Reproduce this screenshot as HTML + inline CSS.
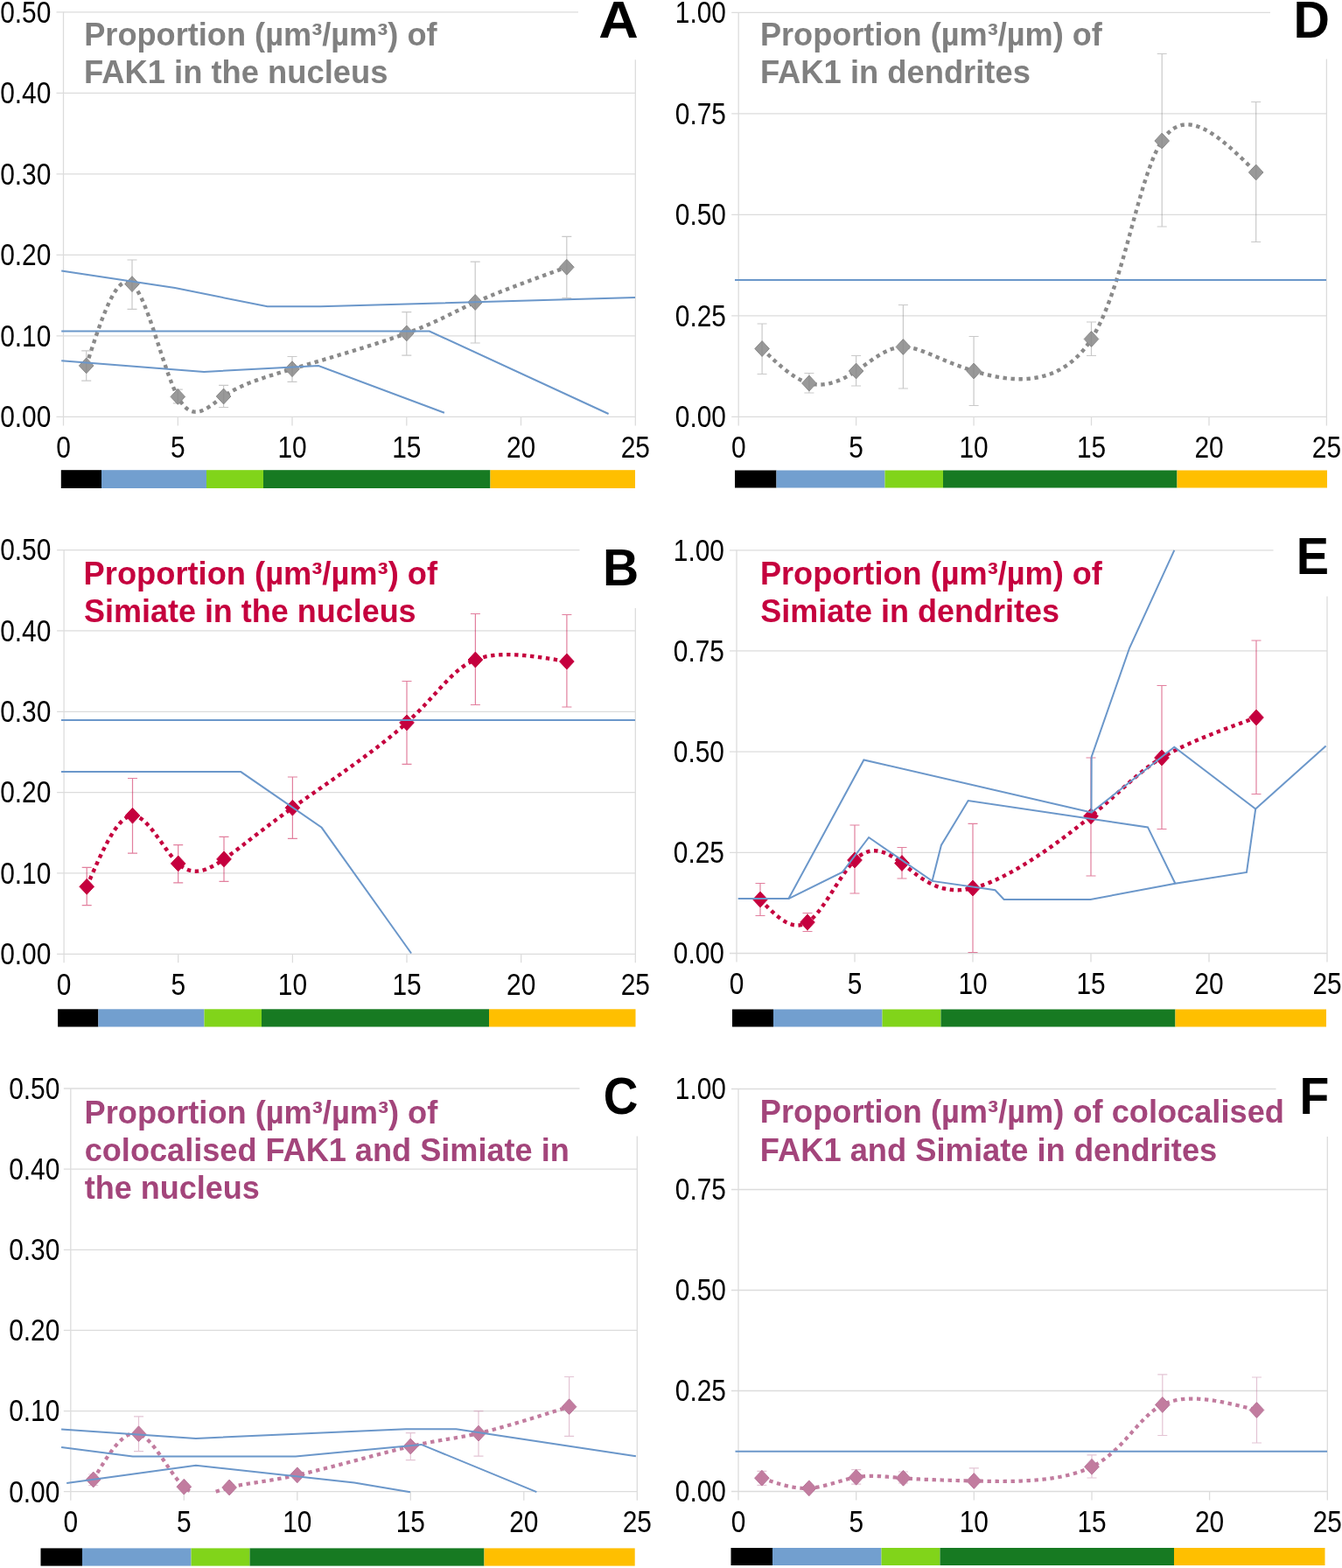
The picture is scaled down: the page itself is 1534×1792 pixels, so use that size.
<!DOCTYPE html>
<html><head><meta charset="utf-8"><title>Figure</title>
<style>
html,body{margin:0;padding:0;background:#fff;overflow:hidden;}
svg{display:block;}
.ax{font-family:"Liberation Sans",Arial,sans-serif;font-size:36px;fill:#000;}
.ti{font-family:"Liberation Sans",Arial,sans-serif;font-size:36px;font-weight:bold;}
.le{font-family:"Liberation Sans",Arial,sans-serif;font-size:59px;font-weight:bold;fill:#000;}
</style></head><body>
<svg width="1534" height="1792" viewBox="0 0 1534 1792">
<rect width="1534" height="1792" fill="#fff"/>
<line x1="64.5" y1="476.40" x2="726.3" y2="476.40" stroke="#dcdcdc" stroke-width="1.3"/>
<text transform="translate(58.3,488.20) scale(0.83,1)" text-anchor="end" class="ax">0.00</text>
<line x1="64.5" y1="383.88" x2="726.3" y2="383.88" stroke="#dcdcdc" stroke-width="1.3"/>
<text transform="translate(58.3,395.68) scale(0.83,1)" text-anchor="end" class="ax">0.10</text>
<line x1="64.5" y1="291.36" x2="726.3" y2="291.36" stroke="#dcdcdc" stroke-width="1.3"/>
<text transform="translate(58.3,303.16) scale(0.83,1)" text-anchor="end" class="ax">0.20</text>
<line x1="64.5" y1="198.84" x2="726.3" y2="198.84" stroke="#dcdcdc" stroke-width="1.3"/>
<text transform="translate(58.3,210.64) scale(0.83,1)" text-anchor="end" class="ax">0.30</text>
<line x1="64.5" y1="106.32" x2="726.3" y2="106.32" stroke="#dcdcdc" stroke-width="1.3"/>
<text transform="translate(58.3,118.12) scale(0.83,1)" text-anchor="end" class="ax">0.40</text>
<line x1="64.5" y1="13.80" x2="661.0" y2="13.80" stroke="#dcdcdc" stroke-width="1.3"/>
<text transform="translate(58.3,25.60) scale(0.83,1)" text-anchor="end" class="ax">0.50</text>
<line x1="72.5" y1="13.80" x2="72.5" y2="486.40" stroke="#dcdcdc" stroke-width="1.3"/>
<line x1="726.3" y1="68.20" x2="726.3" y2="486.40" stroke="#dcdcdc" stroke-width="1.3"/>
<text transform="translate(72.5,523.10) scale(0.83,1)" text-anchor="middle" class="ax">0</text>
<line x1="203.3" y1="476.40" x2="203.3" y2="486.40" stroke="#dcdcdc" stroke-width="1.3"/>
<text transform="translate(203.3,523.10) scale(0.83,1)" text-anchor="middle" class="ax">5</text>
<line x1="334.0" y1="476.40" x2="334.0" y2="486.40" stroke="#dcdcdc" stroke-width="1.3"/>
<text transform="translate(334.0,523.10) scale(0.83,1)" text-anchor="middle" class="ax">10</text>
<line x1="464.8" y1="476.40" x2="464.8" y2="486.40" stroke="#dcdcdc" stroke-width="1.3"/>
<text transform="translate(464.8,523.10) scale(0.83,1)" text-anchor="middle" class="ax">15</text>
<line x1="595.5" y1="476.40" x2="595.5" y2="486.40" stroke="#dcdcdc" stroke-width="1.3"/>
<text transform="translate(595.5,523.10) scale(0.83,1)" text-anchor="middle" class="ax">20</text>
<text transform="translate(726.3,523.10) scale(0.83,1)" text-anchor="middle" class="ax">25</text>
<path d="M98.65,417.90 L99.17,416.28 L99.70,414.66 L100.22,413.05 L100.74,411.43 L101.26,409.82 L101.79,408.21 L102.31,406.60 L102.83,404.99 L103.35,403.39 L103.87,401.79 L104.40,400.20 L104.92,398.60 L105.44,397.02 L105.96,395.44 L106.49,393.86 L107.01,392.30 L107.53,390.73 L108.05,389.18 L108.58,387.63 L109.10,386.09 L109.62,384.56 L110.14,383.04 L110.67,381.52 L111.19,380.02 L111.71,378.53 L112.23,377.04 L112.76,375.57 L113.28,374.11 L113.80,372.65 L114.32,371.22 L114.85,369.79 L115.37,368.38 L115.89,366.98 L116.41,365.59 L116.94,364.22 L117.46,362.86 L117.98,361.51 L118.51,360.18 L119.03,358.87 L119.55,357.57 L120.08,356.29 L120.60,355.03 L121.12,353.78 L121.64,352.55 L122.17,351.34 L122.69,350.15 L123.21,348.98 L123.74,347.82 L124.26,346.69 L124.78,345.58 L125.31,344.48 L125.83,343.41 L126.35,342.36 L126.88,341.33 L127.40,340.32 L127.93,339.34 L128.45,338.38 L128.97,337.44 L129.50,336.53 L130.02,335.64 L130.54,334.77 L131.07,333.93 L131.59,333.12 L132.12,332.33 L132.64,331.57 L133.17,330.83 L133.69,330.12 L134.21,329.44 L134.74,328.79 L135.26,328.16 L135.79,327.57 L136.31,327.00 L136.84,326.46 L137.36,325.96 L137.89,325.48 L138.41,325.03 L138.94,324.62 L139.46,324.24 L139.99,323.89 L140.51,323.57 L141.04,323.28 L141.56,323.03 L142.09,322.81 L142.61,322.63 L143.14,322.48 L143.66,322.37 L144.19,322.29 L144.72,322.24 L145.24,322.24 L145.77,322.26 L146.29,322.33 L146.82,322.44 L147.35,322.58 L147.87,322.76 L148.40,322.98 L148.92,323.23 L149.45,323.53 L149.98,323.87 L150.50,324.24 L151.03,324.66 L151.56,325.12 L152.09,325.62 L152.61,326.16 L153.14,326.74 L153.67,327.35 L154.19,328.00 L154.72,328.69 L155.25,329.42 L155.78,330.18 L156.30,330.98 L156.83,331.80 L157.36,332.67 L157.89,333.56 L158.41,334.49 L158.94,335.44 L159.47,336.43 L160.00,337.45 L160.53,338.49 L161.05,339.57 L161.58,340.67 L162.11,341.80 L162.64,342.95 L163.16,344.13 L163.69,345.33 L164.22,346.56 L164.75,347.81 L165.27,349.08 L165.80,350.37 L166.33,351.69 L166.86,353.02 L167.38,354.37 L167.91,355.75 L168.44,357.14 L168.97,358.55 L169.49,359.97 L170.02,361.41 L170.55,362.87 L171.08,364.34 L171.60,365.82 L172.13,367.32 L172.66,368.82 L173.18,370.34 L173.71,371.88 L174.24,373.42 L174.76,374.97 L175.29,376.53 L175.81,378.09 L176.34,379.67 L176.87,381.25 L177.39,382.84 L177.92,384.43 L178.44,386.02 L178.97,387.62 L179.49,389.23 L180.02,390.83 L180.54,392.44 L181.07,394.04 L181.59,395.65 L182.12,397.26 L182.64,398.86 L183.17,400.46 L183.69,402.06 L184.21,403.66 L184.74,405.25 L185.26,406.84 L185.78,408.42 L186.31,410.00 L186.83,411.56 L187.35,413.12 L187.87,414.68 L188.39,416.22 L188.92,417.75 L189.44,419.27 L189.96,420.78 L190.48,422.28 L191.00,423.77 L191.52,425.24 L192.04,426.69 L192.56,428.14 L193.08,429.56 L193.60,430.97 L194.12,432.36 L194.64,433.74 L195.15,435.09 L195.67,436.43 L196.19,437.75 L196.71,439.04 L197.23,440.32 L197.74,441.57 L198.26,442.80 L198.78,444.00 L199.29,445.19 L199.81,446.34 L200.32,447.47 L200.84,448.58 L201.35,449.65 L201.87,450.70 L202.38,451.72 L202.89,452.71 L203.41,453.67 L203.92,454.60 L204.43,455.50 L204.94,456.37 L205.46,457.21 L205.97,458.02 L206.48,458.80 L206.99,459.56 L207.50,460.28 L208.01,460.98 L208.52,461.65 L209.03,462.30 L209.54,462.91 L210.05,463.50 L210.56,464.07 L211.07,464.61 L211.58,465.12 L212.09,465.61 L212.60,466.07 L213.11,466.51 L213.62,466.92 L214.13,467.32 L214.64,467.68 L215.14,468.03 L215.65,468.35 L216.16,468.65 L216.67,468.93 L217.18,469.19 L217.69,469.42 L218.20,469.64 L218.71,469.83 L219.22,470.00 L219.73,470.16 L220.24,470.29 L220.75,470.41 L221.26,470.50 L221.77,470.58 L222.29,470.64 L222.80,470.68 L223.31,470.71 L223.82,470.72 L224.33,470.71 L224.85,470.68 L225.36,470.64 L225.87,470.58 L226.39,470.51 L226.90,470.42 L227.42,470.32 L227.93,470.20 L228.45,470.07 L228.97,469.92 L229.48,469.76 L230.00,469.59 L230.52,469.41 L231.04,469.21 L231.56,469.00 L232.08,468.79 L232.60,468.55 L233.12,468.31 L233.64,468.06 L234.16,467.80 L234.69,467.52 L235.21,467.24 L235.73,466.95 L236.26,466.65 L236.78,466.34 L237.31,466.02 L237.84,465.70 L238.37,465.37 L238.90,465.03 L239.43,464.68 L239.96,464.33 L240.49,463.97 L241.02,463.60 L241.56,463.23 L242.09,462.86 L242.63,462.48 L243.16,462.09 L243.70,461.71 L244.24,461.31 L244.78,460.92 L245.32,460.52 L245.86,460.12 L246.40,459.72 L246.94,459.31 L247.49,458.90 L248.04,458.49 L248.58,458.09 L249.13,457.68 L249.68,457.27 L250.23,456.85 L250.78,456.45 L251.34,456.04 L251.89,455.63 L252.45,455.22 L253.00,454.82 L253.56,454.41 L254.12,454.01 L254.68,453.62 L255.24,453.22 L255.81,452.83 L256.37,452.45 L256.94,452.06 L257.50,451.68 L258.07,451.31 L258.65,450.93 L259.22,450.57 L259.79,450.20 L260.37,449.84 L260.95,449.48 L261.53,449.12 L262.12,448.77 L262.70,448.42 L263.29,448.07 L263.88,447.72 L264.48,447.38 L265.08,447.04 L265.68,446.70 L266.28,446.37 L266.89,446.04 L267.50,445.71 L268.11,445.38 L268.72,445.06 L269.34,444.74 L269.97,444.42 L270.59,444.10 L271.22,443.78 L271.86,443.47 L272.50,443.16 L273.14,442.85 L273.78,442.54 L274.43,442.23 L275.09,441.93 L275.75,441.62 L276.41,441.32 L277.08,441.02 L277.75,440.72 L278.43,440.42 L279.11,440.13 L279.80,439.83 L280.49,439.54 L281.19,439.24 L281.89,438.95 L282.60,438.66 L283.31,438.37 L284.03,438.08 L284.75,437.79 L285.48,437.50 L286.22,437.22 L286.96,436.93 L287.71,436.64 L288.46,436.36 L289.22,436.07 L289.99,435.79 L290.76,435.50 L291.54,435.22 L292.32,434.93 L293.11,434.65 L293.91,434.36 L294.72,434.08 L295.53,433.79 L296.35,433.51 L297.17,433.22 L298.01,432.94 L298.85,432.65 L299.69,432.36 L300.55,432.08 L301.41,431.79 L302.28,431.50 L303.16,431.21 L304.04,430.92 L304.94,430.63 L305.84,430.34 L306.75,430.04 L307.67,429.75 L308.59,429.45 L309.53,429.16 L310.47,428.86 L311.42,428.56 L312.38,428.26 L313.35,427.96 L314.32,427.65 L315.31,427.35 L316.31,427.04 L317.31,426.73 L318.32,426.42 L319.35,426.11 L320.38,425.79 L321.42,425.48 L322.47,425.16 L323.53,424.84 L324.60,424.52 L325.68,424.19 L326.77,423.86 L327.87,423.53 L328.98,423.20 L330.10,422.87 L331.23,422.53 L332.37,422.19 L333.52,421.85 L334.69,421.50 L335.86,421.15 L337.04,420.80 L338.23,420.45 L339.43,420.09 L340.65,419.73 L341.87,419.37 L343.10,419.01 L344.34,418.64 L345.59,418.27 L346.84,417.90 L348.11,417.53 L349.38,417.15 L350.66,416.78 L351.95,416.40 L353.24,416.01 L354.54,415.63 L355.85,415.24 L357.17,414.85 L358.49,414.46 L359.81,414.07 L361.15,413.68 L362.49,413.28 L363.83,412.88 L365.18,412.48 L366.54,412.08 L367.90,411.68 L369.26,411.28 L370.63,410.87 L372.00,410.46 L373.38,410.05 L374.76,409.64 L376.14,409.23 L377.52,408.82 L378.91,408.41 L380.31,407.99 L381.70,407.57 L383.10,407.16 L384.49,406.74 L385.89,406.32 L387.30,405.90 L388.70,405.48 L390.10,405.05 L391.51,404.63 L392.91,404.21 L394.32,403.78 L395.73,403.36 L397.13,402.93 L398.54,402.50 L399.94,402.08 L401.35,401.65 L402.75,401.22 L404.15,400.79 L405.55,400.36 L406.95,399.93 L408.35,399.50 L409.75,399.07 L411.14,398.64 L412.53,398.21 L413.92,397.78 L415.30,397.35 L416.68,396.92 L418.06,396.49 L419.43,396.06 L420.80,395.63 L422.17,395.20 L423.53,394.77 L424.89,394.34 L426.24,393.91 L427.58,393.48 L428.92,393.05 L430.26,392.63 L431.59,392.20 L432.91,391.77 L434.23,391.35 L435.54,390.92 L436.85,390.49 L438.14,390.07 L439.44,389.65 L440.72,389.22 L441.99,388.80 L443.26,388.38 L444.52,387.96 L445.77,387.54 L447.01,387.12 L448.25,386.71 L449.47,386.29 L450.69,385.88 L451.89,385.46 L453.09,385.05 L454.28,384.64 L455.45,384.23 L456.62,383.82 L457.77,383.42 L458.92,383.01 L460.05,382.61 L461.17,382.21 L462.29,381.81 L463.38,381.41 L464.47,381.01 L465.55,380.62 L466.61,380.23 L467.66,379.83 L468.70,379.44 L469.73,379.06 L470.74,378.67 L471.75,378.29 L472.74,377.90 L473.72,377.52 L474.70,377.14 L475.66,376.76 L476.61,376.39 L477.55,376.01 L478.49,375.64 L479.41,375.27 L480.32,374.89 L481.23,374.52 L482.12,374.16 L483.01,373.79 L483.88,373.42 L484.75,373.06 L485.61,372.69 L486.47,372.33 L487.31,371.97 L488.15,371.61 L488.98,371.25 L489.80,370.89 L490.61,370.54 L491.42,370.18 L492.22,369.83 L493.02,369.47 L493.81,369.12 L494.59,368.77 L495.37,368.41 L496.14,368.06 L496.90,367.71 L497.66,367.36 L498.42,367.02 L499.17,366.67 L499.91,366.32 L500.65,365.97 L501.39,365.63 L502.12,365.28 L502.85,364.94 L503.57,364.59 L504.29,364.25 L505.01,363.91 L505.72,363.56 L506.43,363.22 L507.14,362.88 L507.84,362.54 L508.55,362.19 L509.25,361.85 L509.94,361.51 L510.64,361.17 L511.33,360.83 L512.03,360.49 L512.72,360.15 L513.41,359.81 L514.10,359.47 L514.79,359.13 L515.47,358.79 L516.16,358.45 L516.85,358.11 L517.54,357.77 L518.23,357.42 L518.91,357.08 L519.60,356.74 L520.29,356.40 L520.98,356.06 L521.67,355.72 L522.37,355.38 L523.06,355.03 L523.76,354.69 L524.46,354.35 L525.16,354.00 L525.86,353.66 L526.57,353.32 L527.27,352.97 L527.99,352.62 L528.70,352.28 L529.42,351.93 L530.14,351.58 L530.86,351.24 L531.59,350.89 L532.32,350.54 L533.06,350.19 L533.80,349.84 L534.55,349.48 L535.30,349.13 L536.06,348.78 L536.82,348.42 L537.58,348.07 L538.36,347.71 L539.14,347.35 L539.92,347.00 L540.71,346.64 L541.51,346.28 L542.31,345.91 L543.12,345.55 L543.94,345.19 L544.76,344.82 L545.59,344.46 L546.43,344.09 L547.27,343.72 L548.12,343.35 L548.98,342.98 L549.85,342.61 L550.72,342.24 L551.59,341.86 L552.48,341.49 L553.37,341.11 L554.26,340.73 L555.16,340.36 L556.07,339.98 L556.99,339.60 L557.91,339.22 L558.83,338.83 L559.76,338.45 L560.70,338.07 L561.64,337.68 L562.59,337.30 L563.54,336.91 L564.50,336.52 L565.47,336.13 L566.44,335.74 L567.41,335.35 L568.39,334.96 L569.38,334.57 L570.37,334.18 L571.36,333.78 L572.36,333.39 L573.36,332.99 L574.37,332.60 L575.39,332.20 L576.41,331.80 L577.43,331.40 L578.46,331.00 L579.49,330.60 L580.52,330.20 L581.56,329.80 L582.61,329.40 L583.66,329.00 L584.71,328.59 L585.76,328.19 L586.82,327.79 L587.89,327.38 L588.95,326.97 L590.03,326.57 L591.10,326.16 L592.18,325.75 L593.26,325.34 L594.35,324.94 L595.43,324.53 L596.52,324.12 L597.62,323.71 L598.72,323.30 L599.82,322.88 L600.92,322.47 L602.03,322.06 L603.14,321.65 L604.25,321.23 L605.36,320.82 L606.48,320.40 L607.60,319.99 L608.72,319.57 L609.85,319.16 L610.98,318.74 L612.11,318.33 L613.24,317.91 L614.37,317.49 L615.51,317.08 L616.64,316.66 L617.78,316.24 L618.92,315.82 L620.07,315.40 L621.21,314.98 L622.36,314.57 L623.51,314.15 L624.66,313.73 L625.81,313.31 L626.96,312.89 L628.11,312.47 L629.27,312.05 L630.42,311.63 L631.58,311.20 L632.74,310.78 L633.90,310.36 L635.05,309.94 L636.21,309.52 L637.38,309.10 L638.54,308.68 L639.70,308.25 L640.86,307.83 L642.03,307.41 L643.19,306.99 L644.35,306.57 L645.52,306.14 L646.68,305.72 L647.84,305.30" fill="none" stroke="#8a8a8a" stroke-width="4.4" stroke-dasharray="4.4 4.6"/>
<path d="M98.7,409.0L107.0,417.9L98.7,426.8L90.4,417.9Z" fill="#999999" stroke="#8a8a8a" stroke-width="1"/>
<path d="M151.0,315.7L159.3,324.6L151.0,333.5L142.7,324.6Z" fill="#999999" stroke="#8a8a8a" stroke-width="1"/>
<path d="M203.3,444.5L211.6,453.4L203.3,462.3L195.0,453.4Z" fill="#999999" stroke="#8a8a8a" stroke-width="1"/>
<path d="M255.6,444.1L263.9,453.0L255.6,461.9L247.3,453.0Z" fill="#999999" stroke="#8a8a8a" stroke-width="1"/>
<path d="M334.0,412.8L342.3,421.7L334.0,430.6L325.7,421.7Z" fill="#999999" stroke="#8a8a8a" stroke-width="1"/>
<path d="M464.8,372.0L473.1,380.9L464.8,389.8L456.5,380.9Z" fill="#999999" stroke="#8a8a8a" stroke-width="1"/>
<path d="M543.2,336.6L551.5,345.5L543.2,354.4L534.9,345.5Z" fill="#999999" stroke="#8a8a8a" stroke-width="1"/>
<path d="M647.8,296.4L656.1,305.3L647.8,314.2L639.5,305.3Z" fill="#999999" stroke="#8a8a8a" stroke-width="1"/>
<path d="M98.7,400.8V435.1M93.2,400.8H104.2M93.2,435.1H104.2" stroke="#888888" stroke-opacity="0.45" stroke-width="1.2" fill="none"/>
<path d="M151.0,297.0V353.3M145.5,297.0H156.5M145.5,353.3H156.5" stroke="#888888" stroke-opacity="0.45" stroke-width="1.2" fill="none"/>
<path d="M203.3,445.2V460.9M197.8,445.2H208.8M197.8,460.9H208.8" stroke="#888888" stroke-opacity="0.45" stroke-width="1.2" fill="none"/>
<path d="M255.6,440.4V465.5M250.1,440.4H261.1M250.1,465.5H261.1" stroke="#888888" stroke-opacity="0.45" stroke-width="1.2" fill="none"/>
<path d="M334.0,407.5V436.3M328.5,407.5H339.5M328.5,436.3H339.5" stroke="#888888" stroke-opacity="0.45" stroke-width="1.2" fill="none"/>
<path d="M464.8,356.6V406.1M459.3,356.6H470.3M459.3,406.1H470.3" stroke="#888888" stroke-opacity="0.45" stroke-width="1.2" fill="none"/>
<path d="M543.2,299.1V392.0M537.7,299.1H548.7M537.7,392.0H548.7" stroke="#888888" stroke-opacity="0.45" stroke-width="1.2" fill="none"/>
<path d="M647.8,270.4V340.5M642.3,270.4H653.3M642.3,340.5H653.3" stroke="#888888" stroke-opacity="0.45" stroke-width="1.2" fill="none"/>
<path d="M70.2,309.6 L200.0,329.1 L305.7,350.3 L366.0,350.3 L726.0,340.0" fill="none" stroke="#6b97ca" stroke-width="2" stroke-linejoin="miter"/>
<path d="M70.2,378.6 L490.8,378.5 L695.6,473.0" fill="none" stroke="#6b97ca" stroke-width="2" stroke-linejoin="miter"/>
<path d="M70.2,412.2 L233.2,424.9 L364.1,418.1 L507.9,471.8" fill="none" stroke="#6b97ca" stroke-width="2" stroke-linejoin="miter"/>
<text x="96.2" y="52" class="ti" fill="#808080" textLength="403.4" lengthAdjust="spacingAndGlyphs">Proportion (µm³/µm³) of</text>
<text x="96.1" y="95" class="ti" fill="#808080" textLength="347.3" lengthAdjust="spacingAndGlyphs">FAK1 in the nucleus</text>
<text x="684.3" y="43.0" class="le" textLength="45.5" lengthAdjust="spacingAndGlyphs">A</text>
<rect x="69.8" y="537.2" width="46.2" height="20.8" fill="#000000"/>
<rect x="116" y="537.2" width="120.0" height="20.8" fill="#729fcf"/>
<rect x="236" y="537.2" width="65.0" height="20.8" fill="#81d41a"/>
<rect x="301" y="537.2" width="259.5" height="20.8" fill="#177a22"/>
<rect x="560.5" y="537.2" width="165.5" height="20.8" fill="#ffbf00"/>
<line x1="65.1" y1="1090.30" x2="726.3" y2="1090.30" stroke="#dcdcdc" stroke-width="1.3"/>
<text transform="translate(58.3,1102.10) scale(0.83,1)" text-anchor="end" class="ax">0.00</text>
<line x1="65.1" y1="997.96" x2="726.3" y2="997.96" stroke="#dcdcdc" stroke-width="1.3"/>
<text transform="translate(58.3,1009.76) scale(0.83,1)" text-anchor="end" class="ax">0.10</text>
<line x1="65.1" y1="905.62" x2="726.3" y2="905.62" stroke="#dcdcdc" stroke-width="1.3"/>
<text transform="translate(58.3,917.42) scale(0.83,1)" text-anchor="end" class="ax">0.20</text>
<line x1="65.1" y1="813.28" x2="726.3" y2="813.28" stroke="#dcdcdc" stroke-width="1.3"/>
<text transform="translate(58.3,825.08) scale(0.83,1)" text-anchor="end" class="ax">0.30</text>
<line x1="65.1" y1="720.94" x2="726.3" y2="720.94" stroke="#dcdcdc" stroke-width="1.3"/>
<text transform="translate(58.3,732.74) scale(0.83,1)" text-anchor="end" class="ax">0.40</text>
<line x1="65.1" y1="628.60" x2="662.5" y2="628.60" stroke="#dcdcdc" stroke-width="1.3"/>
<text transform="translate(58.3,640.40) scale(0.83,1)" text-anchor="end" class="ax">0.50</text>
<line x1="73.1" y1="628.60" x2="73.1" y2="1100.30" stroke="#dcdcdc" stroke-width="1.3"/>
<line x1="726.3" y1="695.00" x2="726.3" y2="1100.30" stroke="#dcdcdc" stroke-width="1.3"/>
<text transform="translate(73.1,1137.00) scale(0.83,1)" text-anchor="middle" class="ax">0</text>
<line x1="203.7" y1="1090.30" x2="203.7" y2="1100.30" stroke="#dcdcdc" stroke-width="1.3"/>
<text transform="translate(203.7,1137.00) scale(0.83,1)" text-anchor="middle" class="ax">5</text>
<line x1="334.4" y1="1090.30" x2="334.4" y2="1100.30" stroke="#dcdcdc" stroke-width="1.3"/>
<text transform="translate(334.4,1137.00) scale(0.83,1)" text-anchor="middle" class="ax">10</text>
<line x1="465.0" y1="1090.30" x2="465.0" y2="1100.30" stroke="#dcdcdc" stroke-width="1.3"/>
<text transform="translate(465.0,1137.00) scale(0.83,1)" text-anchor="middle" class="ax">15</text>
<line x1="595.7" y1="1090.30" x2="595.7" y2="1100.30" stroke="#dcdcdc" stroke-width="1.3"/>
<text transform="translate(595.7,1137.00) scale(0.83,1)" text-anchor="middle" class="ax">20</text>
<text transform="translate(726.3,1137.00) scale(0.83,1)" text-anchor="middle" class="ax">25</text>
<path d="M99.23,1013.30 L99.75,1012.09 L100.27,1010.88 L100.79,1009.67 L101.32,1008.46 L101.84,1007.25 L102.36,1006.04 L102.88,1004.84 L103.40,1003.63 L103.92,1002.43 L104.45,1001.23 L104.97,1000.03 L105.49,998.83 L106.01,997.64 L106.53,996.45 L107.06,995.27 L107.58,994.08 L108.10,992.91 L108.62,991.73 L109.14,990.56 L109.66,989.40 L110.19,988.23 L110.71,987.08 L111.23,985.93 L111.75,984.78 L112.27,983.64 L112.80,982.51 L113.32,981.38 L113.84,980.26 L114.36,979.15 L114.89,978.04 L115.41,976.94 L115.93,975.85 L116.45,974.77 L116.97,973.69 L117.50,972.62 L118.02,971.56 L118.54,970.51 L119.06,969.47 L119.59,968.44 L120.11,967.41 L120.63,966.40 L121.15,965.39 L121.68,964.40 L122.20,963.42 L122.72,962.44 L123.24,961.48 L123.77,960.53 L124.29,959.59 L124.81,958.66 L125.34,957.74 L125.86,956.84 L126.38,955.94 L126.91,955.06 L127.43,954.20 L127.95,953.34 L128.47,952.50 L129.00,951.67 L129.52,950.86 L130.04,950.06 L130.57,949.27 L131.09,948.50 L131.61,947.74 L132.14,947.00 L132.66,946.27 L133.19,945.56 L133.71,944.87 L134.23,944.18 L134.76,943.52 L135.28,942.87 L135.81,942.24 L136.33,941.63 L136.85,941.03 L137.38,940.45 L137.90,939.89 L138.43,939.34 L138.95,938.82 L139.47,938.31 L140.00,937.82 L140.52,937.35 L141.05,936.89 L141.57,936.46 L142.10,936.05 L142.62,935.65 L143.15,935.28 L143.67,934.92 L144.20,934.59 L144.72,934.28 L145.25,933.99 L145.77,933.71 L146.30,933.46 L146.83,933.24 L147.35,933.03 L147.88,932.85 L148.40,932.69 L148.93,932.55 L149.45,932.43 L149.98,932.34 L150.51,932.27 L151.03,932.22 L151.56,932.20 L152.09,932.20 L152.61,932.22 L153.14,932.27 L153.67,932.34 L154.19,932.44 L154.72,932.55 L155.25,932.69 L155.77,932.85 L156.30,933.03 L156.83,933.22 L157.35,933.44 L157.88,933.68 L158.41,933.94 L158.94,934.22 L159.46,934.52 L159.99,934.83 L160.52,935.16 L161.04,935.51 L161.57,935.88 L162.10,936.26 L162.63,936.66 L163.15,937.08 L163.68,937.51 L164.21,937.95 L164.74,938.41 L165.26,938.89 L165.79,939.38 L166.32,939.88 L166.84,940.40 L167.37,940.92 L167.90,941.47 L168.42,942.02 L168.95,942.58 L169.48,943.16 L170.01,943.75 L170.53,944.35 L171.06,944.95 L171.59,945.57 L172.11,946.20 L172.64,946.83 L173.16,947.48 L173.69,948.13 L174.22,948.79 L174.74,949.46 L175.27,950.14 L175.79,950.82 L176.32,951.51 L176.85,952.20 L177.37,952.90 L177.90,953.61 L178.42,954.32 L178.95,955.03 L179.47,955.75 L180.00,956.47 L180.52,957.20 L181.04,957.93 L181.57,958.66 L182.09,959.39 L182.62,960.12 L183.14,960.86 L183.66,961.60 L184.19,962.33 L184.71,963.07 L185.23,963.81 L185.76,964.55 L186.28,965.28 L186.80,966.02 L187.32,966.75 L187.84,967.48 L188.37,968.21 L188.89,968.94 L189.41,969.66 L189.93,970.38 L190.45,971.09 L190.97,971.81 L191.49,972.51 L192.01,973.21 L192.53,973.91 L193.05,974.60 L193.57,975.28 L194.09,975.96 L194.61,976.63 L195.12,977.29 L195.64,977.94 L196.16,978.59 L196.68,979.23 L197.19,979.85 L197.71,980.47 L198.23,981.08 L198.74,981.68 L199.26,982.27 L199.77,982.85 L200.29,983.42 L200.80,983.97 L201.32,984.51 L201.83,985.04 L202.35,985.56 L202.86,986.07 L203.37,986.56 L203.89,987.03 L204.40,987.50 L204.91,987.95 L205.42,988.38 L205.93,988.80 L206.44,989.21 L206.96,989.61 L207.47,989.99 L207.98,990.35 L208.49,990.71 L209.00,991.05 L209.51,991.37 L210.02,991.69 L210.52,991.99 L211.03,992.28 L211.54,992.56 L212.05,992.82 L212.56,993.07 L213.07,993.31 L213.58,993.54 L214.09,993.75 L214.60,993.96 L215.10,994.15 L215.61,994.33 L216.12,994.50 L216.63,994.65 L217.14,994.80 L217.65,994.93 L218.16,995.05 L218.67,995.16 L219.18,995.27 L219.69,995.36 L220.20,995.43 L220.71,995.50 L221.22,995.56 L221.73,995.61 L222.24,995.65 L222.75,995.67 L223.26,995.69 L223.77,995.70 L224.28,995.69 L224.80,995.68 L225.31,995.66 L225.82,995.63 L226.33,995.59 L226.85,995.54 L227.36,995.48 L227.88,995.41 L228.39,995.33 L228.91,995.24 L229.42,995.15 L229.94,995.05 L230.46,994.93 L230.97,994.81 L231.49,994.69 L232.01,994.55 L232.53,994.40 L233.05,994.25 L233.57,994.09 L234.09,993.92 L234.61,993.74 L235.14,993.56 L235.66,993.37 L236.18,993.17 L236.71,992.97 L237.23,992.75 L237.76,992.53 L238.29,992.31 L238.81,992.08 L239.34,991.84 L239.87,991.59 L240.40,991.34 L240.93,991.08 L241.47,990.81 L242.00,990.54 L242.53,990.27 L243.07,989.98 L243.60,989.69 L244.14,989.40 L244.68,989.10 L245.22,988.79 L245.76,988.48 L246.30,988.17 L246.84,987.85 L247.38,987.52 L247.93,987.19 L248.47,986.86 L249.02,986.52 L249.57,986.17 L250.12,985.83 L250.67,985.47 L251.22,985.12 L251.77,984.75 L252.32,984.39 L252.88,984.02 L253.44,983.65 L253.99,983.27 L254.55,982.89 L255.11,982.51 L255.67,982.12 L256.24,981.73 L256.80,981.34 L257.37,980.94 L257.94,980.55 L258.50,980.14 L259.08,979.74 L259.65,979.33 L260.22,978.92 L260.80,978.50 L261.38,978.08 L261.96,977.66 L262.54,977.24 L263.13,976.81 L263.72,976.38 L264.31,975.94 L264.90,975.50 L265.50,975.06 L266.10,974.61 L266.70,974.16 L267.31,973.71 L267.92,973.25 L268.53,972.79 L269.14,972.33 L269.76,971.86 L270.39,971.39 L271.01,970.91 L271.64,970.43 L272.27,969.95 L272.91,969.46 L273.55,968.97 L274.20,968.48 L274.85,967.98 L275.50,967.48 L276.16,966.97 L276.82,966.46 L277.49,965.95 L278.16,965.43 L278.84,964.91 L279.52,964.38 L280.21,963.85 L280.90,963.32 L281.60,962.78 L282.30,962.24 L283.00,961.69 L283.72,961.14 L284.44,960.58 L285.16,960.02 L285.89,959.46 L286.62,958.89 L287.36,958.32 L288.11,957.74 L288.86,957.16 L289.62,956.57 L290.39,955.98 L291.16,955.39 L291.94,954.79 L292.72,954.19 L293.51,953.58 L294.31,952.96 L295.11,952.35 L295.92,951.72 L296.74,951.10 L297.57,950.46 L298.40,949.83 L299.24,949.19 L300.08,948.54 L300.94,947.89 L301.80,947.23 L302.67,946.57 L303.55,945.91 L304.43,945.24 L305.32,944.56 L306.22,943.88 L307.13,943.20 L308.05,942.51 L308.97,941.81 L309.91,941.11 L310.85,940.41 L311.80,939.70 L312.76,938.98 L313.73,938.26 L314.70,937.54 L315.69,936.80 L316.68,936.07 L317.68,935.33 L318.70,934.58 L319.72,933.83 L320.75,933.07 L321.79,932.31 L322.84,931.54 L323.90,930.77 L324.97,929.99 L326.05,929.20 L327.14,928.41 L328.24,927.62 L329.35,926.82 L330.46,926.01 L331.59,925.20 L332.73,924.38 L333.88,923.55 L335.04,922.73 L336.22,921.89 L337.40,921.05 L338.59,920.20 L339.79,919.35 L341.00,918.50 L342.22,917.63 L343.45,916.77 L344.69,915.90 L345.93,915.02 L347.19,914.14 L348.45,913.25 L349.72,912.36 L351.00,911.46 L352.29,910.56 L353.58,909.66 L354.88,908.75 L356.19,907.83 L357.50,906.92 L358.82,905.99 L360.15,905.07 L361.48,904.14 L362.82,903.20 L364.16,902.27 L365.51,901.32 L366.87,900.38 L368.22,899.43 L369.59,898.48 L370.95,897.52 L372.32,896.56 L373.70,895.60 L375.08,894.64 L376.46,893.67 L377.84,892.70 L379.23,891.72 L380.62,890.74 L382.02,889.76 L383.41,888.78 L384.81,887.80 L386.21,886.81 L387.61,885.82 L389.01,884.83 L390.41,883.83 L391.82,882.84 L393.22,881.84 L394.62,880.84 L396.03,879.83 L397.43,878.83 L398.84,877.82 L400.24,876.82 L401.65,875.81 L403.05,874.80 L404.45,873.78 L405.85,872.77 L407.25,871.76 L408.64,870.74 L410.04,869.72 L411.43,868.71 L412.82,867.69 L414.20,866.67 L415.58,865.65 L416.96,864.63 L418.34,863.61 L419.71,862.58 L421.08,861.56 L422.45,860.54 L423.81,859.52 L425.16,858.49 L426.51,857.47 L427.86,856.45 L429.20,855.42 L430.53,854.40 L431.86,853.38 L433.18,852.36 L434.50,851.34 L435.81,850.31 L437.11,849.29 L438.41,848.27 L439.70,847.25 L440.98,846.24 L442.25,845.22 L443.52,844.20 L444.78,843.19 L446.03,842.17 L447.27,841.16 L448.50,840.15 L449.73,839.14 L450.94,838.13 L452.15,837.13 L453.34,836.12 L454.53,835.12 L455.70,834.12 L456.87,833.12 L458.02,832.12 L459.16,831.12 L460.30,830.13 L461.42,829.14 L462.53,828.15 L463.63,827.16 L464.71,826.18 L465.79,825.20 L466.85,824.22 L467.90,823.25 L468.94,822.27 L469.96,821.30 L470.98,820.34 L471.98,819.37 L472.97,818.41 L473.96,817.45 L474.93,816.50 L475.89,815.55 L476.84,814.60 L477.78,813.66 L478.71,812.72 L479.64,811.78 L480.55,810.85 L481.45,809.92 L482.34,809.00 L483.23,808.08 L484.11,807.16 L484.97,806.25 L485.83,805.34 L486.69,804.44 L487.53,803.54 L488.37,802.64 L489.20,801.75 L490.02,800.86 L490.83,799.98 L491.64,799.11 L492.44,798.24 L493.23,797.37 L494.02,796.51 L494.80,795.65 L495.58,794.80 L496.35,793.96 L497.11,793.12 L497.87,792.28 L498.63,791.45 L499.37,790.63 L500.12,789.81 L500.86,789.00 L501.59,788.19 L502.32,787.39 L503.05,786.59 L503.77,785.81 L504.49,785.02 L505.21,784.25 L505.92,783.48 L506.63,782.71 L507.34,781.96 L508.04,781.20 L508.75,780.46 L509.44,779.72 L510.14,778.99 L510.84,778.27 L511.53,777.55 L512.22,776.84 L512.91,776.14 L513.60,775.44 L514.29,774.75 L514.98,774.07 L515.67,773.40 L516.35,772.73 L517.04,772.07 L517.73,771.42 L518.42,770.78 L519.10,770.14 L519.79,769.52 L520.48,768.90 L521.17,768.28 L521.86,767.68 L522.55,767.09 L523.25,766.50 L523.94,765.92 L524.64,765.35 L525.34,764.79 L526.04,764.23 L526.75,763.69 L527.46,763.15 L528.17,762.62 L528.88,762.11 L529.60,761.60 L530.32,761.10 L531.04,760.60 L531.77,760.12 L532.50,759.65 L533.24,759.19 L533.98,758.73 L534.73,758.29 L535.48,757.85 L536.23,757.43 L536.99,757.01 L537.76,756.61 L538.53,756.21 L539.31,755.82 L540.09,755.45 L540.88,755.08 L541.68,754.73 L542.48,754.38 L543.29,754.05 L544.10,753.72 L544.93,753.41 L545.76,753.10 L546.59,752.81 L547.44,752.53 L548.29,752.25 L549.15,751.99 L550.01,751.74 L550.88,751.49 L551.75,751.26 L552.64,751.03 L553.53,750.82 L554.42,750.61 L555.32,750.41 L556.23,750.22 L557.14,750.04 L558.06,749.87 L558.99,749.71 L559.92,749.55 L560.85,749.41 L561.79,749.27 L562.74,749.14 L563.69,749.02 L564.65,748.91 L565.61,748.81 L566.58,748.71 L567.56,748.62 L568.54,748.54 L569.52,748.47 L570.51,748.40 L571.50,748.34 L572.50,748.29 L573.50,748.25 L574.51,748.21 L575.53,748.18 L576.54,748.15 L577.56,748.14 L578.59,748.13 L579.62,748.12 L580.66,748.12 L581.70,748.13 L582.74,748.15 L583.79,748.17 L584.84,748.20 L585.89,748.23 L586.95,748.27 L588.01,748.31 L589.08,748.36 L590.15,748.42 L591.22,748.48 L592.30,748.54 L593.38,748.61 L594.47,748.69 L595.55,748.77 L596.64,748.86 L597.74,748.95 L598.83,749.04 L599.93,749.14 L601.04,749.24 L602.14,749.35 L603.25,749.47 L604.36,749.58 L605.48,749.70 L606.59,749.83 L607.71,749.95 L608.83,750.09 L609.96,750.22 L611.08,750.36 L612.21,750.50 L613.34,750.65 L614.47,750.80 L615.61,750.95 L616.74,751.10 L617.88,751.26 L619.02,751.42 L620.16,751.58 L621.31,751.75 L622.45,751.92 L623.60,752.09 L624.75,752.26 L625.90,752.43 L627.05,752.61 L628.20,752.79 L629.36,752.97 L630.51,753.15 L631.67,753.33 L632.82,753.51 L633.98,753.70 L635.14,753.89 L636.30,754.08 L637.46,754.27 L638.62,754.46 L639.78,754.65 L640.94,754.84 L642.10,755.03 L643.26,755.22 L644.43,755.42 L645.59,755.61 L646.75,755.81 L647.92,756.00" fill="none" stroke="#c5003e" stroke-width="4.4" stroke-dasharray="4.4 4.6"/>
<path d="M99.2,1004.4L107.5,1013.3L99.2,1022.2L90.9,1013.3Z" fill="#c5003e" stroke="#c5003e" stroke-width="1"/>
<path d="M151.5,923.3L159.8,932.2L151.5,941.1L143.2,932.2Z" fill="#c5003e" stroke="#c5003e" stroke-width="1"/>
<path d="M203.7,978.0L212.0,986.9L203.7,995.8L195.4,986.9Z" fill="#c5003e" stroke="#c5003e" stroke-width="1"/>
<path d="M256.0,973.0L264.3,981.9L256.0,990.8L247.7,981.9Z" fill="#c5003e" stroke="#c5003e" stroke-width="1"/>
<path d="M334.4,914.3L342.7,923.2L334.4,932.1L326.1,923.2Z" fill="#c5003e" stroke="#c5003e" stroke-width="1"/>
<path d="M465.0,817.0L473.3,825.9L465.0,834.8L456.7,825.9Z" fill="#c5003e" stroke="#c5003e" stroke-width="1"/>
<path d="M543.4,745.1L551.7,754.0L543.4,762.9L535.1,754.0Z" fill="#c5003e" stroke="#c5003e" stroke-width="1"/>
<path d="M647.9,747.1L656.2,756.0L647.9,764.9L639.6,756.0Z" fill="#c5003e" stroke="#c5003e" stroke-width="1"/>
<path d="M99.2,991.3V1034.7M93.7,991.3H104.7M93.7,1034.7H104.7" stroke="#c5003e" stroke-opacity="0.5" stroke-width="1.2" fill="none"/>
<path d="M151.5,889.5V975.2M146.0,889.5H157.0M146.0,975.2H157.0" stroke="#c5003e" stroke-opacity="0.5" stroke-width="1.2" fill="none"/>
<path d="M203.7,965.7V1008.9M198.2,965.7H209.2M198.2,1008.9H209.2" stroke="#c5003e" stroke-opacity="0.5" stroke-width="1.2" fill="none"/>
<path d="M256.0,956.4V1007.4M250.5,956.4H261.5M250.5,1007.4H261.5" stroke="#c5003e" stroke-opacity="0.5" stroke-width="1.2" fill="none"/>
<path d="M334.4,888.0V958.4M328.9,888.0H339.9M328.9,958.4H339.9" stroke="#c5003e" stroke-opacity="0.5" stroke-width="1.2" fill="none"/>
<path d="M465.0,778.5V873.4M459.5,778.5H470.5M459.5,873.4H470.5" stroke="#c5003e" stroke-opacity="0.5" stroke-width="1.2" fill="none"/>
<path d="M543.4,701.5V805.5M537.9,701.5H548.9M537.9,805.5H548.9" stroke="#c5003e" stroke-opacity="0.5" stroke-width="1.2" fill="none"/>
<path d="M647.9,702.5V808.0M642.4,702.5H653.4M642.4,808.0H653.4" stroke="#c5003e" stroke-opacity="0.5" stroke-width="1.2" fill="none"/>
<path d="M70.0,822.9 L726.0,822.9" fill="none" stroke="#6b97ca" stroke-width="2" stroke-linejoin="miter"/>
<path d="M70.0,882.1 L275.3,882.1 L367.7,945.8 L470.1,1089.5" fill="none" stroke="#6b97ca" stroke-width="2" stroke-linejoin="miter"/>
<text x="95.6" y="668" class="ti" fill="#c5003e" textLength="404.5" lengthAdjust="spacingAndGlyphs">Proportion (µm³/µm³) of</text>
<text x="96.0" y="711" class="ti" fill="#c5003e" textLength="379.6" lengthAdjust="spacingAndGlyphs">Simiate in the nucleus</text>
<text x="688.9" y="669.1" class="le" textLength="41.2" lengthAdjust="spacingAndGlyphs">B</text>
<rect x="66.1" y="1153.3" width="46.3" height="20.2" fill="#000000"/>
<rect x="112.4" y="1153.3" width="121.1" height="20.2" fill="#729fcf"/>
<rect x="233.5" y="1153.3" width="65.5" height="20.2" fill="#81d41a"/>
<rect x="299" y="1153.3" width="260.0" height="20.2" fill="#177a22"/>
<rect x="559" y="1153.3" width="167.5" height="20.2" fill="#ffbf00"/>
<line x1="72.8" y1="1704.70" x2="728.3" y2="1704.70" stroke="#dcdcdc" stroke-width="1.3"/>
<text transform="translate(68.3,1716.50) scale(0.83,1)" text-anchor="end" class="ax">0.00</text>
<line x1="72.8" y1="1612.56" x2="728.3" y2="1612.56" stroke="#dcdcdc" stroke-width="1.3"/>
<text transform="translate(68.3,1624.36) scale(0.83,1)" text-anchor="end" class="ax">0.10</text>
<line x1="72.8" y1="1520.42" x2="728.3" y2="1520.42" stroke="#dcdcdc" stroke-width="1.3"/>
<text transform="translate(68.3,1532.22) scale(0.83,1)" text-anchor="end" class="ax">0.20</text>
<line x1="72.8" y1="1428.28" x2="728.3" y2="1428.28" stroke="#dcdcdc" stroke-width="1.3"/>
<text transform="translate(68.3,1440.08) scale(0.83,1)" text-anchor="end" class="ax">0.30</text>
<line x1="72.8" y1="1336.14" x2="728.3" y2="1336.14" stroke="#dcdcdc" stroke-width="1.3"/>
<text transform="translate(68.3,1347.94) scale(0.83,1)" text-anchor="end" class="ax">0.40</text>
<line x1="72.8" y1="1244.00" x2="662.5" y2="1244.00" stroke="#dcdcdc" stroke-width="1.3"/>
<text transform="translate(68.3,1255.80) scale(0.83,1)" text-anchor="end" class="ax">0.50</text>
<line x1="80.8" y1="1244.00" x2="80.8" y2="1714.70" stroke="#dcdcdc" stroke-width="1.3"/>
<line x1="728.3" y1="1298.50" x2="728.3" y2="1714.70" stroke="#dcdcdc" stroke-width="1.3"/>
<text transform="translate(80.8,1751.40) scale(0.83,1)" text-anchor="middle" class="ax">0</text>
<line x1="210.3" y1="1704.70" x2="210.3" y2="1714.70" stroke="#dcdcdc" stroke-width="1.3"/>
<text transform="translate(210.3,1751.40) scale(0.83,1)" text-anchor="middle" class="ax">5</text>
<line x1="339.8" y1="1704.70" x2="339.8" y2="1714.70" stroke="#dcdcdc" stroke-width="1.3"/>
<text transform="translate(339.8,1751.40) scale(0.83,1)" text-anchor="middle" class="ax">10</text>
<line x1="469.3" y1="1704.70" x2="469.3" y2="1714.70" stroke="#dcdcdc" stroke-width="1.3"/>
<text transform="translate(469.3,1751.40) scale(0.83,1)" text-anchor="middle" class="ax">15</text>
<line x1="598.8" y1="1704.70" x2="598.8" y2="1714.70" stroke="#dcdcdc" stroke-width="1.3"/>
<text transform="translate(598.8,1751.40) scale(0.83,1)" text-anchor="middle" class="ax">20</text>
<text transform="translate(728.3,1751.40) scale(0.83,1)" text-anchor="middle" class="ax">25</text>
<path d="M106.70,1691.00 L107.22,1690.13 L107.73,1689.26 L108.25,1688.40 L108.77,1687.53 L109.29,1686.67 L109.80,1685.80 L110.32,1684.94 L110.84,1684.08 L111.36,1683.22 L111.87,1682.36 L112.39,1681.50 L112.91,1680.65 L113.42,1679.80 L113.94,1678.95 L114.46,1678.10 L114.98,1677.26 L115.49,1676.42 L116.01,1675.58 L116.53,1674.75 L117.05,1673.92 L117.56,1673.10 L118.08,1672.28 L118.60,1671.46 L119.12,1670.65 L119.63,1669.85 L120.15,1669.05 L120.67,1668.25 L121.19,1667.46 L121.70,1666.68 L122.22,1665.90 L122.74,1665.13 L123.26,1664.36 L123.77,1663.60 L124.29,1662.85 L124.81,1662.11 L125.33,1661.37 L125.85,1660.64 L126.36,1659.92 L126.88,1659.21 L127.40,1658.50 L127.92,1657.80 L128.43,1657.11 L128.95,1656.43 L129.47,1655.76 L129.99,1655.10 L130.51,1654.44 L131.03,1653.80 L131.54,1653.16 L132.06,1652.54 L132.58,1651.93 L133.10,1651.32 L133.62,1650.73 L134.14,1650.15 L134.65,1649.57 L135.17,1649.01 L135.69,1648.47 L136.21,1647.93 L136.73,1647.40 L137.25,1646.89 L137.77,1646.39 L138.29,1645.90 L138.80,1645.42 L139.32,1644.96 L139.84,1644.51 L140.36,1644.07 L140.88,1643.65 L141.40,1643.24 L141.92,1642.84 L142.44,1642.46 L142.96,1642.09 L143.48,1641.74 L144.00,1641.40 L144.52,1641.08 L145.04,1640.77 L145.56,1640.47 L146.08,1640.20 L146.60,1639.93 L147.12,1639.69 L147.64,1639.46 L148.16,1639.24 L148.68,1639.05 L149.20,1638.87 L149.72,1638.70 L150.24,1638.56 L150.76,1638.43 L151.28,1638.32 L151.80,1638.22 L152.32,1638.15 L152.84,1638.09 L153.36,1638.05 L153.88,1638.03 L154.40,1638.03 L154.92,1638.05 L155.45,1638.09 L155.97,1638.14 L156.49,1638.22 L157.01,1638.31 L157.53,1638.43 L158.05,1638.57 L158.57,1638.72 L159.10,1638.90 L159.62,1639.10 L160.14,1639.32 L160.66,1639.55 L161.18,1639.81 L161.71,1640.08 L162.23,1640.38 L162.75,1640.69 L163.27,1641.02 L163.80,1641.37 L164.32,1641.73 L164.84,1642.11 L165.36,1642.51 L165.89,1642.92 L166.41,1643.35 L166.93,1643.79 L167.45,1644.25 L167.98,1644.73 L168.50,1645.21 L169.02,1645.72 L169.54,1646.23 L170.07,1646.76 L170.59,1647.30 L171.11,1647.85 L171.64,1648.42 L172.16,1649.00 L172.68,1649.59 L173.20,1650.19 L173.73,1650.80 L174.25,1651.42 L174.77,1652.05 L175.29,1652.69 L175.82,1653.34 L176.34,1654.00 L176.86,1654.66 L177.38,1655.34 L177.90,1656.02 L178.43,1656.71 L178.95,1657.41 L179.47,1658.11 L179.99,1658.83 L180.51,1659.54 L181.03,1660.27 L181.56,1660.99 L182.08,1661.73 L182.60,1662.46 L183.12,1663.21 L183.64,1663.95 L184.16,1664.70 L184.68,1665.45 L185.20,1666.21 L185.72,1666.97 L186.24,1667.73 L186.76,1668.49 L187.28,1669.25 L187.80,1670.02 L188.32,1670.78 L188.84,1671.55 L189.36,1672.31 L189.88,1673.08 L190.40,1673.84 L190.92,1674.61 L191.44,1675.37 L191.95,1676.13 L192.47,1676.89 L192.99,1677.64 L193.51,1678.39 L194.03,1679.14 L194.54,1679.89 L195.06,1680.63 L195.58,1681.37 L196.09,1682.10 L196.61,1682.83 L197.13,1683.56 L197.64,1684.27 L198.16,1684.98 L198.67,1685.69 L199.19,1686.39 L199.70,1687.08 L200.22,1687.76 L200.73,1688.44 L201.25,1689.11 L201.76,1689.77 L202.27,1690.42 L202.79,1691.06 L203.30,1691.69 L203.81,1692.31 L204.32,1692.92 L204.84,1693.52 L205.35,1694.11 L205.86,1694.69 L206.37,1695.26 L206.88,1695.81 L207.39,1696.36 L207.90,1696.89 L208.41,1697.40 L208.92,1697.91 L209.43,1698.39 L209.94,1698.87 L210.45,1699.33 L210.95,1699.78 L211.46,1700.21 L211.97,1700.62 L212.47,1701.03 L212.98,1701.41 L213.49,1701.79 L213.99,1702.15 L214.50,1702.50 L215.01,1702.83 L215.51,1703.15 L216.02,1703.46 L216.52,1703.76 L217.03,1704.04 L217.53,1704.31 L218.04,1704.56 L218.31,1704.70 M246.71,1704.70 L247.17,1704.56 L247.70,1704.40 L248.23,1704.24 L248.76,1704.08 L249.29,1703.92 L249.82,1703.75 L250.35,1703.59 L250.88,1703.42 L251.42,1703.25 L251.95,1703.08 L252.49,1702.91 L253.03,1702.74 L253.56,1702.57 L254.10,1702.40 L254.64,1702.23 L255.19,1702.05 L255.73,1701.88 L256.27,1701.71 L256.82,1701.55 L257.36,1701.38 L257.91,1701.21 L258.46,1701.04 L259.01,1700.88 L259.56,1700.72 L260.12,1700.56 L260.67,1700.40 L261.22,1700.24 L261.78,1700.09 L262.34,1699.94 L262.90,1699.79 L263.46,1699.64 L264.02,1699.49 L264.59,1699.35 L265.15,1699.21 L265.72,1699.08 L266.29,1698.94 L266.86,1698.81 L267.44,1698.68 L268.01,1698.55 L268.59,1698.42 L269.17,1698.29 L269.75,1698.17 L270.34,1698.05 L270.93,1697.92 L271.52,1697.81 L272.12,1697.69 L272.71,1697.57 L273.31,1697.45 L273.92,1697.34 L274.52,1697.23 L275.13,1697.12 L275.75,1697.00 L276.36,1696.89 L276.98,1696.78 L277.61,1696.68 L278.24,1696.57 L278.87,1696.46 L279.50,1696.35 L280.14,1696.25 L280.79,1696.14 L281.44,1696.04 L282.09,1695.93 L282.75,1695.83 L283.41,1695.72 L284.07,1695.62 L284.74,1695.51 L285.42,1695.41 L286.10,1695.30 L286.79,1695.19 L287.48,1695.09 L288.17,1694.98 L288.87,1694.88 L289.58,1694.77 L290.29,1694.66 L291.01,1694.55 L291.73,1694.44 L292.46,1694.33 L293.19,1694.22 L293.93,1694.11 L294.68,1694.00 L295.43,1693.88 L296.19,1693.77 L296.96,1693.65 L297.73,1693.53 L298.50,1693.41 L299.29,1693.29 L300.08,1693.17 L300.87,1693.04 L301.68,1692.92 L302.49,1692.79 L303.31,1692.66 L304.13,1692.53 L304.96,1692.40 L305.80,1692.26 L306.65,1692.12 L307.50,1691.98 L308.37,1691.84 L309.24,1691.70 L310.11,1691.55 L311.00,1691.40 L311.89,1691.25 L312.79,1691.09 L313.70,1690.94 L314.62,1690.78 L315.54,1690.61 L316.47,1690.45 L317.42,1690.28 L318.37,1690.11 L319.33,1689.93 L320.29,1689.75 L321.27,1689.57 L322.26,1689.39 L323.25,1689.20 L324.25,1689.01 L325.27,1688.81 L326.29,1688.61 L327.32,1688.41 L328.36,1688.20 L329.41,1687.99 L330.47,1687.78 L331.54,1687.56 L332.62,1687.33 L333.71,1687.11 L334.81,1686.88 L335.92,1686.64 L337.04,1686.40 L338.17,1686.16 L339.31,1685.91 L340.46,1685.65 L341.62,1685.40 L342.79,1685.13 L343.97,1684.87 L345.16,1684.60 L346.36,1684.32 L347.57,1684.04 L348.79,1683.76 L350.02,1683.47 L351.25,1683.18 L352.50,1682.88 L353.75,1682.59 L355.01,1682.28 L356.28,1681.98 L357.55,1681.67 L358.83,1681.36 L360.12,1681.04 L361.42,1680.72 L362.72,1680.40 L364.03,1680.08 L365.35,1679.75 L366.67,1679.42 L367.99,1679.09 L369.32,1678.75 L370.66,1678.42 L372.00,1678.08 L373.35,1677.73 L374.70,1677.39 L376.05,1677.04 L377.41,1676.70 L378.78,1676.35 L380.14,1675.99 L381.51,1675.64 L382.89,1675.29 L384.26,1674.93 L385.64,1674.57 L387.02,1674.21 L388.40,1673.85 L389.79,1673.49 L391.17,1673.13 L392.56,1672.77 L393.95,1672.40 L395.34,1672.04 L396.73,1671.67 L398.13,1671.31 L399.52,1670.94 L400.91,1670.57 L402.30,1670.20 L403.70,1669.84 L405.09,1669.47 L406.48,1669.10 L407.87,1668.74 L409.26,1668.37 L410.64,1668.00 L412.03,1667.63 L413.41,1667.27 L414.80,1666.90 L416.17,1666.54 L417.55,1666.18 L418.93,1665.81 L420.30,1665.45 L421.66,1665.09 L423.03,1664.73 L424.39,1664.37 L425.75,1664.01 L427.10,1663.66 L428.45,1663.30 L429.79,1662.95 L431.13,1662.60 L432.46,1662.25 L433.79,1661.90 L435.11,1661.56 L436.43,1661.21 L437.74,1660.87 L439.05,1660.53 L440.34,1660.20 L441.64,1659.86 L442.92,1659.53 L444.20,1659.20 L445.47,1658.88 L446.73,1658.55 L447.99,1658.23 L449.24,1657.91 L450.47,1657.60 L451.70,1657.29 L452.93,1656.98 L454.14,1656.68 L455.34,1656.38 L456.54,1656.08 L457.72,1655.79 L458.90,1655.50 L460.06,1655.21 L461.22,1654.93 L462.36,1654.65 L463.50,1654.38 L464.62,1654.11 L465.73,1653.84 L466.83,1653.58 L467.92,1653.32 L468.99,1653.07 L470.06,1652.82 L471.11,1652.58 L472.15,1652.34 L473.18,1652.11 L474.20,1651.88 L475.21,1651.66 L476.20,1651.44 L477.18,1651.22 L478.16,1651.01 L479.12,1650.80 L480.07,1650.60 L481.02,1650.40 L481.95,1650.20 L482.87,1650.01 L483.79,1649.82 L484.69,1649.63 L485.59,1649.45 L486.47,1649.27 L487.35,1649.09 L488.22,1648.92 L489.08,1648.75 L489.93,1648.59 L490.78,1648.42 L491.61,1648.26 L492.44,1648.10 L493.26,1647.95 L494.08,1647.80 L494.89,1647.65 L495.69,1647.50 L496.48,1647.35 L497.27,1647.21 L498.05,1647.07 L498.82,1646.93 L499.59,1646.79 L500.36,1646.66 L501.11,1646.53 L501.87,1646.40 L502.61,1646.27 L503.36,1646.14 L504.09,1646.01 L504.83,1645.89 L505.55,1645.76 L506.28,1645.64 L507.00,1645.52 L507.72,1645.40 L508.43,1645.28 L509.14,1645.17 L509.85,1645.05 L510.55,1644.93 L511.25,1644.82 L511.95,1644.70 L512.64,1644.59 L513.34,1644.47 L514.03,1644.36 L514.72,1644.25 L515.40,1644.14 L516.09,1644.02 L516.78,1643.91 L517.46,1643.80 L518.14,1643.68 L518.82,1643.57 L519.51,1643.46 L520.19,1643.34 L520.87,1643.23 L521.55,1643.12 L522.23,1643.00 L522.91,1642.88 L523.59,1642.77 L524.28,1642.65 L524.96,1642.53 L525.65,1642.41 L526.33,1642.29 L527.02,1642.17 L527.71,1642.05 L528.40,1641.92 L529.10,1641.80 L529.79,1641.67 L530.49,1641.54 L531.19,1641.41 L531.90,1641.28 L532.60,1641.14 L533.31,1641.01 L534.03,1640.87 L534.75,1640.73 L535.47,1640.58 L536.19,1640.44 L536.92,1640.29 L537.66,1640.14 L538.40,1639.99 L539.14,1639.84 L539.89,1639.68 L540.64,1639.52 L541.40,1639.35 L542.17,1639.19 L542.94,1639.02 L543.72,1638.85 L544.50,1638.67 L545.29,1638.49 L546.08,1638.31 L546.88,1638.13 L547.69,1637.94 L548.51,1637.75 L549.33,1637.55 L550.16,1637.35 L551.00,1637.15 L551.84,1636.94 L552.69,1636.73 L553.55,1636.52 L554.41,1636.31 L555.28,1636.09 L556.15,1635.86 L557.03,1635.64 L557.92,1635.41 L558.81,1635.18 L559.71,1634.95 L560.62,1634.71 L561.53,1634.47 L562.45,1634.23 L563.37,1633.98 L564.30,1633.73 L565.23,1633.48 L566.17,1633.22 L567.11,1632.97 L568.06,1632.71 L569.02,1632.44 L569.98,1632.18 L570.94,1631.91 L571.91,1631.64 L572.89,1631.37 L573.87,1631.09 L574.85,1630.81 L575.84,1630.53 L576.84,1630.25 L577.84,1629.97 L578.84,1629.68 L579.85,1629.39 L580.86,1629.10 L581.88,1628.80 L582.90,1628.51 L583.93,1628.21 L584.96,1627.91 L585.99,1627.60 L587.03,1627.30 L588.07,1626.99 L589.12,1626.68 L590.17,1626.37 L591.22,1626.06 L592.28,1625.75 L593.34,1625.43 L594.40,1625.11 L595.47,1624.79 L596.54,1624.47 L597.62,1624.15 L598.69,1623.82 L599.78,1623.50 L600.86,1623.17 L601.95,1622.84 L603.04,1622.51 L604.13,1622.18 L605.23,1621.84 L606.32,1621.51 L607.43,1621.17 L608.53,1620.83 L609.64,1620.49 L610.75,1620.15 L611.86,1619.81 L612.97,1619.47 L614.09,1619.12 L615.21,1618.78 L616.33,1618.43 L617.45,1618.08 L618.57,1617.73 L619.70,1617.38 L620.83,1617.03 L621.96,1616.68 L623.09,1616.33 L624.22,1615.98 L625.36,1615.62 L626.50,1615.27 L627.64,1614.91 L628.77,1614.56 L629.92,1614.20 L631.06,1613.84 L632.20,1613.48 L633.35,1613.12 L634.49,1612.76 L635.64,1612.41 L636.79,1612.04 L637.93,1611.68 L639.08,1611.32 L640.23,1610.96 L641.38,1610.60 L642.53,1610.24 L643.69,1609.88 L644.84,1609.51 L645.99,1609.15 L647.14,1608.79 L648.29,1608.43 L649.45,1608.06 L650.60,1607.70" fill="none" stroke="#c27c9f" stroke-width="4.2" stroke-dasharray="4.4 4.6"/>
<path d="M106.7,1682.1L115.0,1691.0L106.7,1699.9L98.4,1691.0Z" fill="#c27c9f" stroke="#b8769a" stroke-width="1"/>
<path d="M158.5,1629.8L166.8,1638.7L158.5,1647.6L150.2,1638.7Z" fill="#c27c9f" stroke="#b8769a" stroke-width="1"/>
<path d="M210.3,1690.3L218.6,1699.2L210.3,1708.1L202.0,1699.2Z" fill="#c27c9f" stroke="#b8769a" stroke-width="1"/>
<path d="M262.1,1691.1L270.4,1700.0L262.1,1708.9L253.8,1700.0Z" fill="#c27c9f" stroke="#b8769a" stroke-width="1"/>
<path d="M339.8,1676.9L348.1,1685.8L339.8,1694.7L331.5,1685.8Z" fill="#c27c9f" stroke="#b8769a" stroke-width="1"/>
<path d="M469.3,1644.1L477.6,1653.0L469.3,1661.9L461.0,1653.0Z" fill="#c27c9f" stroke="#b8769a" stroke-width="1"/>
<path d="M547.0,1629.2L555.3,1638.1L547.0,1647.0L538.7,1638.1Z" fill="#c27c9f" stroke="#b8769a" stroke-width="1"/>
<path d="M650.6,1598.8L658.9,1607.7L650.6,1616.6L642.3,1607.7Z" fill="#c27c9f" stroke="#b8769a" stroke-width="1"/>
<path d="M106.7,1685.0V1697.5M101.2,1685.0H112.2M101.2,1697.5H112.2" stroke="#c27c9f" stroke-opacity="0.45" stroke-width="1.2" fill="none"/>
<path d="M158.5,1618.9V1658.6M153.0,1618.9H164.0M153.0,1658.6H164.0" stroke="#c27c9f" stroke-opacity="0.45" stroke-width="1.2" fill="none"/>
<path d="M210.3,1696.0V1702.0M204.8,1696.0H215.8M204.8,1702.0H215.8" stroke="#c27c9f" stroke-opacity="0.45" stroke-width="1.2" fill="none"/>
<path d="M262.1,1697.0V1703.0M256.6,1697.0H267.6M256.6,1703.0H267.6" stroke="#c27c9f" stroke-opacity="0.45" stroke-width="1.2" fill="none"/>
<path d="M339.8,1683.0V1689.0M334.3,1683.0H345.3M334.3,1689.0H345.3" stroke="#c27c9f" stroke-opacity="0.45" stroke-width="1.2" fill="none"/>
<path d="M469.3,1637.6V1668.7M463.8,1637.6H474.8M463.8,1668.7H474.8" stroke="#c27c9f" stroke-opacity="0.45" stroke-width="1.2" fill="none"/>
<path d="M547.0,1612.6V1664.2M541.5,1612.6H552.5M541.5,1664.2H552.5" stroke="#c27c9f" stroke-opacity="0.45" stroke-width="1.2" fill="none"/>
<path d="M650.6,1573.5V1641.4M645.1,1573.5H656.1M645.1,1641.4H656.1" stroke="#c27c9f" stroke-opacity="0.45" stroke-width="1.2" fill="none"/>
<path d="M70.1,1633.5 L223.9,1643.9 L464.0,1633.3 L521.5,1633.3 L726.9,1664.2" fill="none" stroke="#6b97ca" stroke-width="2" stroke-linejoin="miter"/>
<path d="M70.1,1654.1 L151.7,1664.4 L337.9,1664.4 L481.6,1650.9 L613.4,1705.2" fill="none" stroke="#6b97ca" stroke-width="2" stroke-linejoin="miter"/>
<path d="M76.2,1695.0 L223.9,1674.8 L405.0,1694.5 L468.9,1705.3" fill="none" stroke="#6b97ca" stroke-width="2" stroke-linejoin="miter"/>
<text x="96.6" y="1284" class="ti" fill="#a3457b" textLength="403.7" lengthAdjust="spacingAndGlyphs">Proportion (µm³/µm³) of</text>
<text x="96.7" y="1327" class="ti" fill="#a3457b" textLength="554.1" lengthAdjust="spacingAndGlyphs">colocalised FAK1 and Simiate in</text>
<text x="96.7" y="1370" class="ti" fill="#a3457b" textLength="200.2" lengthAdjust="spacingAndGlyphs">the nucleus</text>
<text x="689.7" y="1273.3" class="le" textLength="39.6" lengthAdjust="spacingAndGlyphs">C</text>
<rect x="46.5" y="1769.4" width="47.5" height="20.2" fill="#000000"/>
<rect x="94" y="1769.4" width="124.5" height="20.2" fill="#729fcf"/>
<rect x="218.5" y="1769.4" width="67.0" height="20.2" fill="#81d41a"/>
<rect x="285.5" y="1769.4" width="268.0" height="20.2" fill="#177a22"/>
<rect x="553.5" y="1769.4" width="172.2" height="20.2" fill="#ffbf00"/>
<line x1="836.2" y1="476.40" x2="1516.4" y2="476.40" stroke="#dcdcdc" stroke-width="1.3"/>
<text transform="translate(830.0,488.20) scale(0.83,1)" text-anchor="end" class="ax">0.00</text>
<line x1="836.2" y1="360.90" x2="1516.4" y2="360.90" stroke="#dcdcdc" stroke-width="1.3"/>
<text transform="translate(830.0,372.70) scale(0.83,1)" text-anchor="end" class="ax">0.25</text>
<line x1="836.2" y1="245.40" x2="1516.4" y2="245.40" stroke="#dcdcdc" stroke-width="1.3"/>
<text transform="translate(830.0,257.20) scale(0.83,1)" text-anchor="end" class="ax">0.50</text>
<line x1="836.2" y1="129.90" x2="1516.4" y2="129.90" stroke="#dcdcdc" stroke-width="1.3"/>
<text transform="translate(830.0,141.70) scale(0.83,1)" text-anchor="end" class="ax">0.75</text>
<line x1="836.2" y1="14.40" x2="1452.0" y2="14.40" stroke="#dcdcdc" stroke-width="1.3"/>
<text transform="translate(830.0,26.20) scale(0.83,1)" text-anchor="end" class="ax">1.00</text>
<line x1="844.2" y1="14.40" x2="844.2" y2="486.40" stroke="#dcdcdc" stroke-width="1.3"/>
<line x1="1516.4" y1="67.50" x2="1516.4" y2="486.40" stroke="#dcdcdc" stroke-width="1.3"/>
<text transform="translate(844.2,523.10) scale(0.83,1)" text-anchor="middle" class="ax">0</text>
<line x1="978.6" y1="476.40" x2="978.6" y2="486.40" stroke="#dcdcdc" stroke-width="1.3"/>
<text transform="translate(978.6,523.10) scale(0.83,1)" text-anchor="middle" class="ax">5</text>
<line x1="1113.1" y1="476.40" x2="1113.1" y2="486.40" stroke="#dcdcdc" stroke-width="1.3"/>
<text transform="translate(1113.1,523.10) scale(0.83,1)" text-anchor="middle" class="ax">10</text>
<line x1="1247.5" y1="476.40" x2="1247.5" y2="486.40" stroke="#dcdcdc" stroke-width="1.3"/>
<text transform="translate(1247.5,523.10) scale(0.83,1)" text-anchor="middle" class="ax">15</text>
<line x1="1382.0" y1="476.40" x2="1382.0" y2="486.40" stroke="#dcdcdc" stroke-width="1.3"/>
<text transform="translate(1382.0,523.10) scale(0.83,1)" text-anchor="middle" class="ax">20</text>
<text transform="translate(1516.4,523.10) scale(0.83,1)" text-anchor="middle" class="ax">25</text>
<path d="M871.09,398.50 L871.62,399.02 L872.16,399.54 L872.70,400.06 L873.24,400.58 L873.77,401.09 L874.31,401.61 L874.85,402.13 L875.38,402.65 L875.92,403.16 L876.46,403.68 L876.99,404.19 L877.53,404.71 L878.07,405.22 L878.61,405.73 L879.14,406.24 L879.68,406.75 L880.22,407.26 L880.75,407.77 L881.29,408.28 L881.83,408.78 L882.37,409.29 L882.90,409.79 L883.44,410.29 L883.98,410.79 L884.51,411.28 L885.05,411.78 L885.59,412.27 L886.13,412.76 L886.66,413.25 L887.20,413.74 L887.74,414.22 L888.28,414.70 L888.81,415.18 L889.35,415.66 L889.89,416.14 L890.43,416.61 L890.96,417.08 L891.50,417.54 L892.04,418.01 L892.58,418.47 L893.11,418.93 L893.65,419.38 L894.19,419.83 L894.73,420.28 L895.27,420.73 L895.80,421.17 L896.34,421.61 L896.88,422.04 L897.42,422.48 L897.96,422.90 L898.49,423.33 L899.03,423.75 L899.57,424.17 L900.11,424.58 L900.65,424.99 L901.19,425.39 L901.72,425.79 L902.26,426.19 L902.80,426.58 L903.34,426.97 L903.88,427.35 L904.42,427.73 L904.96,428.10 L905.49,428.47 L906.03,428.84 L906.57,429.20 L907.11,429.55 L907.65,429.90 L908.19,430.25 L908.73,430.59 L909.27,430.92 L909.81,431.25 L910.35,431.57 L910.89,431.89 L911.43,432.20 L911.97,432.51 L912.51,432.81 L913.05,433.11 L913.59,433.40 L914.13,433.68 L914.67,433.96 L915.21,434.23 L915.75,434.50 L916.29,434.76 L916.83,435.01 L917.37,435.26 L917.91,435.50 L918.45,435.74 L918.99,435.96 L919.53,436.19 L920.07,436.40 L920.61,436.61 L921.15,436.81 L921.69,437.00 L922.23,437.19 L922.78,437.37 L923.32,437.55 L923.86,437.71 L924.40,437.87 L924.94,438.02 L925.48,438.17 L926.02,438.30 L926.57,438.43 L927.11,438.55 L927.65,438.67 L928.19,438.77 L928.74,438.88 L929.28,438.97 L929.82,439.06 L930.36,439.13 L930.90,439.21 L931.45,439.27 L931.99,439.33 L932.53,439.38 L933.07,439.43 L933.62,439.47 L934.16,439.50 L934.70,439.52 L935.24,439.54 L935.79,439.56 L936.33,439.56 L936.87,439.56 L937.42,439.55 L937.96,439.54 L938.50,439.52 L939.04,439.50 L939.59,439.46 L940.13,439.43 L940.67,439.38 L941.21,439.33 L941.76,439.28 L942.30,439.22 L942.84,439.15 L943.38,439.08 L943.92,439.00 L944.47,438.91 L945.01,438.82 L945.55,438.73 L946.09,438.62 L946.63,438.52 L947.18,438.41 L947.72,438.29 L948.26,438.16 L948.80,438.04 L949.34,437.90 L949.88,437.76 L950.42,437.62 L950.96,437.47 L951.50,437.32 L952.04,437.16 L952.58,436.99 L953.13,436.82 L953.67,436.65 L954.21,436.47 L954.74,436.29 L955.28,436.10 L955.82,435.91 L956.36,435.71 L956.90,435.51 L957.44,435.30 L957.98,435.09 L958.52,434.87 L959.06,434.65 L959.59,434.43 L960.13,434.20 L960.67,433.97 L961.21,433.73 L961.75,433.49 L962.28,433.25 L962.82,433.00 L963.36,432.75 L963.89,432.49 L964.43,432.23 L964.96,431.96 L965.50,431.69 L966.03,431.42 L966.57,431.15 L967.10,430.87 L967.64,430.58 L968.17,430.30 L968.71,430.01 L969.24,429.71 L969.77,429.42 L970.31,429.12 L970.84,428.81 L971.37,428.51 L971.90,428.20 L972.44,427.88 L972.97,427.57 L973.50,427.25 L974.03,426.93 L974.56,426.60 L975.09,426.27 L975.62,425.94 L976.15,425.61 L976.68,425.27 L977.21,424.93 L977.74,424.59 L978.26,424.25 L978.79,423.90 L979.32,423.55 L979.84,423.20 L980.37,422.85 L980.90,422.49 L981.42,422.13 L981.95,421.77 L982.47,421.41 L983.00,421.05 L983.52,420.68 L984.05,420.31 L984.57,419.95 L985.10,419.58 L985.62,419.21 L986.15,418.84 L986.67,418.47 L987.19,418.09 L987.72,417.72 L988.24,417.35 L988.76,416.97 L989.29,416.60 L989.81,416.23 L990.34,415.85 L990.86,415.48 L991.38,415.10 L991.91,414.73 L992.43,414.36 L992.95,413.99 L993.48,413.61 L994.00,413.24 L994.53,412.87 L995.05,412.51 L995.58,412.14 L996.10,411.77 L996.63,411.41 L997.15,411.04 L997.68,410.68 L998.20,410.32 L998.73,409.97 L999.25,409.61 L999.78,409.26 L1000.31,408.91 L1000.84,408.56 L1001.36,408.21 L1001.89,407.87 L1002.42,407.53 L1002.95,407.19 L1003.48,406.85 L1004.01,406.52 L1004.54,406.19 L1005.07,405.87 L1005.60,405.55 L1006.13,405.23 L1006.67,404.91 L1007.20,404.60 L1007.73,404.30 L1008.27,403.99 L1008.80,403.69 L1009.34,403.40 L1009.87,403.11 L1010.41,402.83 L1010.95,402.54 L1011.49,402.27 L1012.03,402.00 L1012.57,401.73 L1013.11,401.47 L1013.65,401.22 L1014.19,400.97 L1014.74,400.72 L1015.28,400.48 L1015.82,400.25 L1016.37,400.02 L1016.92,399.80 L1017.46,399.58 L1018.01,399.37 L1018.56,399.17 L1019.11,398.97 L1019.66,398.78 L1020.22,398.60 L1020.77,398.42 L1021.33,398.26 L1021.88,398.09 L1022.44,397.94 L1023.00,397.79 L1023.55,397.65 L1024.11,397.52 L1024.68,397.39 L1025.24,397.27 L1025.80,397.16 L1026.37,397.06 L1026.93,396.97 L1027.50,396.88 L1028.07,396.80 L1028.64,396.73 L1029.21,396.67 L1029.78,396.62 L1030.36,396.58 L1030.93,396.55 L1031.51,396.52 L1032.09,396.50 L1032.66,396.50 L1033.25,396.50 L1033.83,396.51 L1034.41,396.53 L1035.00,396.57 L1035.58,396.60 L1036.17,396.65 L1036.77,396.71 L1037.36,396.77 L1037.96,396.85 L1038.55,396.93 L1039.15,397.02 L1039.76,397.12 L1040.36,397.22 L1040.97,397.34 L1041.58,397.46 L1042.20,397.59 L1042.81,397.72 L1043.43,397.87 L1044.06,398.02 L1044.68,398.18 L1045.31,398.34 L1045.95,398.52 L1046.58,398.70 L1047.22,398.88 L1047.87,399.08 L1048.52,399.27 L1049.17,399.48 L1049.82,399.69 L1050.48,399.91 L1051.15,400.14 L1051.82,400.37 L1052.49,400.60 L1053.17,400.84 L1053.85,401.09 L1054.54,401.34 L1055.23,401.60 L1055.92,401.87 L1056.63,402.13 L1057.33,402.41 L1058.04,402.69 L1058.76,402.97 L1059.48,403.26 L1060.21,403.55 L1060.94,403.85 L1061.68,404.15 L1062.43,404.46 L1063.18,404.77 L1063.93,405.08 L1064.70,405.40 L1065.46,405.72 L1066.24,406.05 L1067.02,406.38 L1067.81,406.71 L1068.60,407.05 L1069.40,407.38 L1070.21,407.73 L1071.02,408.07 L1071.84,408.42 L1072.67,408.77 L1073.50,409.13 L1074.35,409.48 L1075.20,409.84 L1076.05,410.20 L1076.92,410.57 L1077.79,410.93 L1078.67,411.30 L1079.55,411.67 L1080.45,412.04 L1081.35,412.42 L1082.26,412.79 L1083.18,413.17 L1084.11,413.54 L1085.04,413.92 L1085.98,414.30 L1086.94,414.68 L1087.90,415.07 L1088.87,415.45 L1089.84,415.83 L1090.83,416.22 L1091.83,416.60 L1092.83,416.99 L1093.84,417.37 L1094.87,417.76 L1095.90,418.14 L1096.94,418.53 L1097.99,418.91 L1099.05,419.29 L1100.12,419.68 L1101.20,420.06 L1102.29,420.44 L1103.40,420.83 L1104.51,421.21 L1105.63,421.59 L1106.76,421.97 L1107.90,422.34 L1109.05,422.72 L1110.21,423.10 L1111.39,423.47 L1112.57,423.84 L1113.76,424.21 L1114.97,424.58 L1116.19,424.94 L1117.41,425.31 L1118.65,425.67 L1119.89,426.02 L1121.15,426.37 L1122.41,426.72 L1123.69,427.06 L1124.97,427.40 L1126.26,427.73 L1127.56,428.06 L1128.87,428.38 L1130.19,428.69 L1131.51,429.00 L1132.84,429.30 L1134.18,429.59 L1135.52,429.87 L1136.88,430.14 L1138.24,430.41 L1139.60,430.66 L1140.97,430.91 L1142.35,431.14 L1143.73,431.37 L1145.12,431.58 L1146.51,431.78 L1147.91,431.97 L1149.31,432.15 L1150.72,432.32 L1152.13,432.47 L1153.54,432.61 L1154.96,432.74 L1156.38,432.85 L1157.81,432.95 L1159.24,433.03 L1160.67,433.10 L1162.10,433.15 L1163.54,433.18 L1164.97,433.20 L1166.41,433.21 L1167.86,433.19 L1169.30,433.16 L1170.74,433.11 L1172.19,433.04 L1173.63,432.95 L1175.08,432.85 L1176.52,432.72 L1177.97,432.58 L1179.41,432.41 L1180.86,432.22 L1182.30,432.02 L1183.74,431.79 L1185.19,431.54 L1186.63,431.26 L1188.07,430.97 L1189.50,430.65 L1190.94,430.31 L1192.37,429.94 L1193.80,429.55 L1195.22,429.14 L1196.65,428.70 L1198.07,428.23 L1199.48,427.74 L1200.90,427.23 L1202.30,426.68 L1203.71,426.11 L1205.11,425.52 L1206.50,424.89 L1207.89,424.24 L1209.28,423.56 L1210.66,422.85 L1212.03,422.11 L1213.40,421.34 L1214.76,420.54 L1216.11,419.71 L1217.46,418.85 L1218.80,417.96 L1220.14,417.04 L1221.46,416.09 L1222.78,415.10 L1224.09,414.08 L1225.40,413.03 L1226.69,411.94 L1227.98,410.82 L1229.25,409.67 L1230.52,408.48 L1231.78,407.26 L1233.03,406.00 L1234.27,404.71 L1235.50,403.38 L1236.72,402.01 L1237.93,400.60 L1239.13,399.16 L1240.32,397.68 L1241.49,396.17 L1242.66,394.61 L1243.81,393.02 L1244.96,391.38 L1246.09,389.71 L1247.20,388.00 L1248.31,386.24 L1249.40,384.45 L1250.48,382.62 L1251.55,380.75 L1252.61,378.84 L1253.65,376.89 L1254.68,374.92 L1255.71,372.90 L1256.72,370.85 L1257.72,368.77 L1258.71,366.66 L1259.68,364.52 L1260.65,362.35 L1261.61,360.14 L1262.56,357.91 L1263.50,355.66 L1264.43,353.37 L1265.35,351.07 L1266.26,348.73 L1267.16,346.37 L1268.05,343.99 L1268.94,341.59 L1269.82,339.17 L1270.68,336.73 L1271.55,334.27 L1272.40,331.79 L1273.24,329.29 L1274.08,326.78 L1274.91,324.25 L1275.74,321.70 L1276.55,319.14 L1277.36,316.57 L1278.17,313.99 L1278.97,311.40 L1279.76,308.80 L1280.55,306.18 L1281.33,303.56 L1282.10,300.93 L1282.87,298.30 L1283.64,295.66 L1284.40,293.02 L1285.16,290.37 L1285.91,287.72 L1286.66,285.06 L1287.40,282.41 L1288.14,279.75 L1288.88,277.10 L1289.61,274.45 L1290.34,271.80 L1291.07,269.15 L1291.79,266.51 L1292.52,263.87 L1293.24,261.24 L1293.95,258.62 L1294.67,256.00 L1295.38,253.40 L1296.10,250.80 L1296.81,248.21 L1297.52,245.64 L1298.23,243.08 L1298.93,240.53 L1299.64,237.99 L1300.35,235.47 L1301.05,232.97 L1301.76,230.48 L1302.47,228.02 L1303.18,225.57 L1303.88,223.14 L1304.59,220.73 L1305.30,218.34 L1306.02,215.97 L1306.73,213.63 L1307.44,211.31 L1308.16,209.02 L1308.88,206.75 L1309.60,204.51 L1310.32,202.30 L1311.05,200.12 L1311.77,197.97 L1312.50,195.84 L1313.24,193.75 L1313.98,191.69 L1314.72,189.67 L1315.46,187.67 L1316.21,185.72 L1316.97,183.80 L1317.72,181.91 L1318.49,180.07 L1319.25,178.26 L1320.03,176.49 L1320.80,174.76 L1321.59,173.08 L1322.37,171.43 L1323.17,169.83 L1323.97,168.28 L1324.77,166.76 L1325.59,165.30 L1326.41,163.88 L1327.23,162.51 L1328.06,161.18 L1328.90,159.91 L1329.75,158.69 L1330.61,157.51 L1331.47,156.38 L1332.34,155.30 L1333.21,154.27 L1334.09,153.29 L1334.98,152.35 L1335.88,151.45 L1336.78,150.60 L1337.69,149.80 L1338.60,149.04 L1339.52,148.33 L1340.45,147.65 L1341.38,147.02 L1342.32,146.43 L1343.27,145.89 L1344.22,145.38 L1345.18,144.92 L1346.14,144.50 L1347.11,144.11 L1348.08,143.77 L1349.06,143.46 L1350.05,143.19 L1351.04,142.96 L1352.04,142.77 L1353.04,142.62 L1354.05,142.50 L1355.06,142.41 L1356.08,142.36 L1357.10,142.35 L1358.13,142.37 L1359.16,142.42 L1360.20,142.51 L1361.24,142.63 L1362.29,142.79 L1363.34,142.97 L1364.39,143.19 L1365.46,143.43 L1366.52,143.71 L1367.59,144.02 L1368.66,144.35 L1369.74,144.72 L1370.82,145.11 L1371.91,145.53 L1373.00,145.98 L1374.09,146.45 L1375.19,146.96 L1376.29,147.48 L1377.40,148.04 L1378.50,148.61 L1379.62,149.22 L1380.73,149.84 L1381.85,150.49 L1382.97,151.16 L1384.10,151.86 L1385.23,152.57 L1386.36,153.31 L1387.49,154.07 L1388.63,154.85 L1389.77,155.65 L1390.92,156.46 L1392.06,157.30 L1393.21,158.16 L1394.36,159.03 L1395.52,159.92 L1396.67,160.83 L1397.83,161.75 L1398.99,162.69 L1400.16,163.65 L1401.32,164.62 L1402.49,165.60 L1403.66,166.60 L1404.83,167.61 L1406.00,168.64 L1407.18,169.67 L1408.35,170.72 L1409.53,171.78 L1410.71,172.85 L1411.90,173.94 L1413.08,175.03 L1414.26,176.13 L1415.45,177.24 L1416.64,178.36 L1417.82,179.48 L1419.01,180.62 L1420.20,181.76 L1421.39,182.91 L1422.59,184.06 L1423.78,185.22 L1424.97,186.38 L1426.17,187.55 L1427.36,188.72 L1428.56,189.90 L1429.75,191.08 L1430.95,192.26 L1432.15,193.44 L1433.34,194.63 L1434.54,195.81 L1435.74,197.00" fill="none" stroke="#8a8a8a" stroke-width="4.4" stroke-dasharray="4.4 4.6"/>
<path d="M871.1,389.6L879.4,398.5L871.1,407.4L862.8,398.5Z" fill="#999999" stroke="#8a8a8a" stroke-width="1"/>
<path d="M924.9,429.1L933.2,438.0L924.9,446.9L916.6,438.0Z" fill="#999999" stroke="#8a8a8a" stroke-width="1"/>
<path d="M978.6,415.1L986.9,424.0L978.6,432.9L970.3,424.0Z" fill="#999999" stroke="#8a8a8a" stroke-width="1"/>
<path d="M1032.4,387.6L1040.7,396.5L1032.4,405.4L1024.1,396.5Z" fill="#999999" stroke="#8a8a8a" stroke-width="1"/>
<path d="M1113.1,415.1L1121.4,424.0L1113.1,432.9L1104.8,424.0Z" fill="#999999" stroke="#8a8a8a" stroke-width="1"/>
<path d="M1247.5,378.6L1255.8,387.5L1247.5,396.4L1239.2,387.5Z" fill="#999999" stroke="#8a8a8a" stroke-width="1"/>
<path d="M1328.2,152.1L1336.5,161.0L1328.2,169.9L1319.9,161.0Z" fill="#999999" stroke="#8a8a8a" stroke-width="1"/>
<path d="M1435.7,188.1L1444.0,197.0L1435.7,205.9L1427.4,197.0Z" fill="#999999" stroke="#8a8a8a" stroke-width="1"/>
<path d="M871.1,370.0V427.5M865.6,370.0H876.6M865.6,427.5H876.6" stroke="#888888" stroke-opacity="0.45" stroke-width="1.2" fill="none"/>
<path d="M924.9,426.5V449.0M919.4,426.5H930.4M919.4,449.0H930.4" stroke="#888888" stroke-opacity="0.45" stroke-width="1.2" fill="none"/>
<path d="M978.6,406.5V441.0M973.1,406.5H984.1M973.1,441.0H984.1" stroke="#888888" stroke-opacity="0.45" stroke-width="1.2" fill="none"/>
<path d="M1032.4,348.5V444.0M1026.9,348.5H1037.9M1026.9,444.0H1037.9" stroke="#888888" stroke-opacity="0.45" stroke-width="1.2" fill="none"/>
<path d="M1113.1,384.5V463.5M1107.6,384.5H1118.6M1107.6,463.5H1118.6" stroke="#888888" stroke-opacity="0.45" stroke-width="1.2" fill="none"/>
<path d="M1247.5,368.0V406.5M1242.0,368.0H1253.0M1242.0,406.5H1253.0" stroke="#888888" stroke-opacity="0.45" stroke-width="1.2" fill="none"/>
<path d="M1328.2,61.5V259.0M1322.7,61.5H1333.7M1322.7,259.0H1333.7" stroke="#888888" stroke-opacity="0.45" stroke-width="1.2" fill="none"/>
<path d="M1435.7,116.5V276.5M1430.2,116.5H1441.2M1430.2,276.5H1441.2" stroke="#888888" stroke-opacity="0.45" stroke-width="1.2" fill="none"/>
<path d="M840.0,319.9 L1516.0,319.9" fill="none" stroke="#6b97ca" stroke-width="2" stroke-linejoin="miter"/>
<text x="868.9" y="52" class="ti" fill="#808080" textLength="391.0" lengthAdjust="spacingAndGlyphs">Proportion (µm³/µm) of</text>
<text x="868.9" y="95" class="ti" fill="#808080" textLength="309.0" lengthAdjust="spacingAndGlyphs">FAK1 in dendrites</text>
<text x="1478.4" y="42.6" class="le" textLength="41.4" lengthAdjust="spacingAndGlyphs">D</text>
<rect x="840" y="537.5" width="47.5" height="20.0" fill="#000000"/>
<rect x="887.5" y="537.5" width="124.0" height="20.0" fill="#729fcf"/>
<rect x="1011.5" y="537.5" width="66.5" height="20.0" fill="#81d41a"/>
<rect x="1078" y="537.5" width="267.5" height="20.0" fill="#177a22"/>
<rect x="1345.5" y="537.5" width="171.5" height="20.0" fill="#ffbf00"/>
<line x1="834.0" y1="1089.50" x2="1517.0" y2="1089.50" stroke="#dcdcdc" stroke-width="1.3"/>
<text transform="translate(828.0,1101.30) scale(0.83,1)" text-anchor="end" class="ax">0.00</text>
<line x1="834.0" y1="974.33" x2="1517.0" y2="974.33" stroke="#dcdcdc" stroke-width="1.3"/>
<text transform="translate(828.0,986.12) scale(0.83,1)" text-anchor="end" class="ax">0.25</text>
<line x1="834.0" y1="859.15" x2="1517.0" y2="859.15" stroke="#dcdcdc" stroke-width="1.3"/>
<text transform="translate(828.0,870.95) scale(0.83,1)" text-anchor="end" class="ax">0.50</text>
<line x1="834.0" y1="743.97" x2="1517.0" y2="743.97" stroke="#dcdcdc" stroke-width="1.3"/>
<text transform="translate(828.0,755.77) scale(0.83,1)" text-anchor="end" class="ax">0.75</text>
<line x1="834.0" y1="628.80" x2="1455.5" y2="628.80" stroke="#dcdcdc" stroke-width="1.3"/>
<text transform="translate(828.0,640.60) scale(0.83,1)" text-anchor="end" class="ax">1.00</text>
<line x1="842.0" y1="628.80" x2="842.0" y2="1099.50" stroke="#dcdcdc" stroke-width="1.3"/>
<line x1="1517.0" y1="681.60" x2="1517.0" y2="1099.50" stroke="#dcdcdc" stroke-width="1.3"/>
<text transform="translate(842.0,1136.20) scale(0.83,1)" text-anchor="middle" class="ax">0</text>
<line x1="977.0" y1="1089.50" x2="977.0" y2="1099.50" stroke="#dcdcdc" stroke-width="1.3"/>
<text transform="translate(977.0,1136.20) scale(0.83,1)" text-anchor="middle" class="ax">5</text>
<line x1="1112.0" y1="1089.50" x2="1112.0" y2="1099.50" stroke="#dcdcdc" stroke-width="1.3"/>
<text transform="translate(1112.0,1136.20) scale(0.83,1)" text-anchor="middle" class="ax">10</text>
<line x1="1247.0" y1="1089.50" x2="1247.0" y2="1099.50" stroke="#dcdcdc" stroke-width="1.3"/>
<text transform="translate(1247.0,1136.20) scale(0.83,1)" text-anchor="middle" class="ax">15</text>
<line x1="1382.0" y1="1089.50" x2="1382.0" y2="1099.50" stroke="#dcdcdc" stroke-width="1.3"/>
<text transform="translate(1382.0,1136.20) scale(0.83,1)" text-anchor="middle" class="ax">20</text>
<text transform="translate(1517.0,1136.20) scale(0.83,1)" text-anchor="middle" class="ax">25</text>
<path d="M869.00,1028.00 L869.54,1028.56 L870.08,1029.13 L870.62,1029.69 L871.16,1030.25 L871.70,1030.81 L872.24,1031.37 L872.77,1031.93 L873.31,1032.49 L873.85,1033.05 L874.39,1033.61 L874.93,1034.16 L875.47,1034.71 L876.01,1035.26 L876.55,1035.81 L877.09,1036.35 L877.63,1036.89 L878.17,1037.43 L878.71,1037.97 L879.25,1038.50 L879.79,1039.03 L880.32,1039.55 L880.86,1040.07 L881.40,1040.59 L881.94,1041.10 L882.48,1041.61 L883.02,1042.12 L883.56,1042.62 L884.10,1043.11 L884.64,1043.60 L885.18,1044.09 L885.72,1044.56 L886.26,1045.04 L886.80,1045.50 L887.34,1045.97 L887.88,1046.42 L888.42,1046.87 L888.96,1047.31 L889.50,1047.75 L890.04,1048.17 L890.58,1048.60 L891.12,1049.01 L891.66,1049.42 L892.20,1049.82 L892.74,1050.21 L893.28,1050.59 L893.82,1050.96 L894.36,1051.33 L894.90,1051.69 L895.44,1052.04 L895.98,1052.38 L896.52,1052.71 L897.06,1053.03 L897.60,1053.34 L898.14,1053.64 L898.68,1053.94 L899.22,1054.22 L899.76,1054.49 L900.30,1054.75 L900.84,1055.01 L901.39,1055.25 L901.93,1055.48 L902.47,1055.69 L903.01,1055.90 L903.55,1056.10 L904.09,1056.28 L904.63,1056.45 L905.17,1056.61 L905.71,1056.76 L906.26,1056.90 L906.80,1057.02 L907.34,1057.13 L907.88,1057.23 L908.42,1057.31 L908.96,1057.38 L909.51,1057.44 L910.05,1057.48 L910.59,1057.51 L911.13,1057.53 L911.67,1057.53 L912.22,1057.52 L912.76,1057.49 L913.30,1057.45 L913.84,1057.39 L914.39,1057.32 L914.93,1057.23 L915.47,1057.13 L916.01,1057.01 L916.56,1056.87 L917.10,1056.72 L917.64,1056.55 L918.19,1056.37 L918.73,1056.17 L919.27,1055.95 L919.82,1055.72 L920.36,1055.47 L920.90,1055.20 L921.45,1054.91 L921.99,1054.61 L922.53,1054.29 L923.08,1053.95 L923.62,1053.59 L924.17,1053.22 L924.71,1052.82 L925.25,1052.41 L925.80,1051.99 L926.34,1051.54 L926.89,1051.08 L927.43,1050.61 L927.98,1050.12 L928.52,1049.61 L929.07,1049.09 L929.61,1048.55 L930.16,1048.00 L930.70,1047.44 L931.24,1046.86 L931.79,1046.27 L932.33,1045.67 L932.88,1045.05 L933.42,1044.42 L933.97,1043.78 L934.51,1043.13 L935.06,1042.47 L935.60,1041.79 L936.15,1041.11 L936.69,1040.41 L937.24,1039.71 L937.78,1038.99 L938.33,1038.27 L938.87,1037.53 L939.42,1036.79 L939.96,1036.04 L940.51,1035.28 L941.05,1034.52 L941.60,1033.74 L942.14,1032.96 L942.68,1032.17 L943.23,1031.38 L943.77,1030.58 L944.32,1029.78 L944.86,1028.97 L945.40,1028.15 L945.95,1027.33 L946.49,1026.50 L947.03,1025.68 L947.58,1024.84 L948.12,1024.01 L948.66,1023.17 L949.21,1022.33 L949.75,1021.48 L950.29,1020.63 L950.84,1019.79 L951.38,1018.94 L951.92,1018.09 L952.46,1017.23 L953.01,1016.38 L953.55,1015.53 L954.09,1014.68 L954.63,1013.83 L955.17,1012.97 L955.71,1012.12 L956.25,1011.28 L956.79,1010.43 L957.34,1009.59 L957.88,1008.74 L958.42,1007.90 L958.96,1007.07 L959.50,1006.24 L960.03,1005.41 L960.57,1004.58 L961.11,1003.76 L961.65,1002.95 L962.19,1002.14 L962.73,1001.33 L963.27,1000.53 L963.80,999.74 L964.34,998.95 L964.88,998.17 L965.42,997.40 L965.95,996.64 L966.49,995.88 L967.03,995.13 L967.56,994.39 L968.10,993.65 L968.63,992.93 L969.17,992.22 L969.70,991.51 L970.24,990.82 L970.77,990.13 L971.30,989.46 L971.84,988.80 L972.37,988.15 L972.90,987.51 L973.43,986.88 L973.97,986.26 L974.50,985.66 L975.03,985.07 L975.56,984.50 L976.09,983.93 L976.62,983.38 L977.15,982.85 L977.68,982.33 L978.21,981.82 L978.74,981.33 L979.27,980.85 L979.80,980.39 L980.32,979.94 L980.85,979.51 L981.38,979.08 L981.90,978.68 L982.43,978.28 L982.96,977.90 L983.48,977.53 L984.01,977.18 L984.54,976.84 L985.06,976.51 L985.59,976.20 L986.12,975.90 L986.64,975.61 L987.17,975.33 L987.69,975.07 L988.22,974.82 L988.74,974.58 L989.27,974.35 L989.80,974.14 L990.32,973.94 L990.85,973.75 L991.37,973.57 L991.90,973.41 L992.43,973.26 L992.95,973.11 L993.48,972.98 L994.01,972.86 L994.53,972.76 L995.06,972.66 L995.59,972.58 L996.12,972.50 L996.64,972.44 L997.17,972.39 L997.70,972.35 L998.23,972.32 L998.76,972.30 L999.29,972.29 L999.82,972.30 L1000.35,972.31 L1000.88,972.33 L1001.41,972.36 L1001.94,972.41 L1002.47,972.46 L1003.01,972.52 L1003.54,972.60 L1004.07,972.68 L1004.61,972.77 L1005.14,972.87 L1005.68,972.99 L1006.21,973.11 L1006.75,973.24 L1007.29,973.38 L1007.83,973.52 L1008.36,973.68 L1008.90,973.85 L1009.44,974.02 L1009.98,974.21 L1010.53,974.40 L1011.07,974.60 L1011.61,974.81 L1012.16,975.03 L1012.70,975.25 L1013.25,975.48 L1013.79,975.73 L1014.34,975.98 L1014.89,976.23 L1015.44,976.50 L1015.99,976.77 L1016.54,977.05 L1017.09,977.34 L1017.64,977.64 L1018.20,977.94 L1018.75,978.25 L1019.31,978.57 L1019.86,978.89 L1020.42,979.22 L1020.98,979.56 L1021.54,979.90 L1022.10,980.25 L1022.66,980.61 L1023.23,980.97 L1023.79,981.35 L1024.36,981.72 L1024.93,982.10 L1025.49,982.49 L1026.06,982.89 L1026.63,983.29 L1027.21,983.69 L1027.78,984.11 L1028.35,984.52 L1028.93,984.95 L1029.51,985.37 L1030.09,985.81 L1030.67,986.25 L1031.25,986.69 L1031.83,987.14 L1032.42,987.59 L1033.00,988.05 L1033.59,988.51 L1034.18,988.98 L1034.77,989.45 L1035.37,989.92 L1035.96,990.40 L1036.56,990.88 L1037.16,991.36 L1037.77,991.85 L1038.37,992.33 L1038.98,992.82 L1039.59,993.31 L1040.20,993.80 L1040.82,994.30 L1041.44,994.79 L1042.06,995.29 L1042.69,995.78 L1043.32,996.28 L1043.95,996.77 L1044.59,997.27 L1045.23,997.76 L1045.87,998.26 L1046.52,998.75 L1047.17,999.24 L1047.82,999.73 L1048.48,1000.22 L1049.14,1000.71 L1049.81,1001.19 L1050.48,1001.67 L1051.16,1002.15 L1051.84,1002.63 L1052.52,1003.10 L1053.21,1003.57 L1053.91,1004.04 L1054.61,1004.50 L1055.31,1004.96 L1056.02,1005.41 L1056.73,1005.86 L1057.45,1006.30 L1058.18,1006.74 L1058.91,1007.18 L1059.65,1007.60 L1060.39,1008.02 L1061.14,1008.44 L1061.89,1008.85 L1062.65,1009.25 L1063.41,1009.65 L1064.19,1010.03 L1064.96,1010.42 L1065.75,1010.79 L1066.54,1011.15 L1067.34,1011.51 L1068.14,1011.86 L1068.95,1012.20 L1069.77,1012.53 L1070.59,1012.85 L1071.42,1013.16 L1072.26,1013.47 L1073.11,1013.76 L1073.96,1014.04 L1074.82,1014.31 L1075.69,1014.58 L1076.56,1014.83 L1077.44,1015.07 L1078.33,1015.30 L1079.23,1015.51 L1080.14,1015.72 L1081.05,1015.91 L1081.97,1016.09 L1082.90,1016.26 L1083.84,1016.41 L1084.79,1016.55 L1085.75,1016.68 L1086.71,1016.80 L1087.68,1016.90 L1088.67,1016.99 L1089.66,1017.06 L1090.66,1017.12 L1091.67,1017.16 L1092.68,1017.19 L1093.71,1017.20 L1094.75,1017.20 L1095.79,1017.18 L1096.85,1017.14 L1097.92,1017.09 L1098.99,1017.03 L1100.08,1016.94 L1101.17,1016.84 L1102.27,1016.72 L1103.39,1016.59 L1104.52,1016.43 L1105.65,1016.26 L1106.80,1016.07 L1107.95,1015.86 L1109.12,1015.63 L1110.30,1015.39 L1111.49,1015.12 L1112.69,1014.83 L1113.90,1014.53 L1115.12,1014.21 L1116.35,1013.86 L1117.59,1013.50 L1118.84,1013.12 L1120.10,1012.72 L1121.37,1012.31 L1122.65,1011.87 L1123.94,1011.42 L1125.24,1010.95 L1126.54,1010.47 L1127.86,1009.97 L1129.18,1009.45 L1130.51,1008.91 L1131.84,1008.36 L1133.19,1007.80 L1134.54,1007.22 L1135.90,1006.62 L1137.26,1006.01 L1138.63,1005.39 L1140.01,1004.75 L1141.39,1004.10 L1142.78,1003.43 L1144.17,1002.75 L1145.57,1002.06 L1146.97,1001.35 L1148.38,1000.63 L1149.79,999.90 L1151.21,999.16 L1152.63,998.40 L1154.06,997.64 L1155.48,996.86 L1156.92,996.07 L1158.35,995.27 L1159.79,994.47 L1161.23,993.65 L1162.67,992.82 L1164.11,991.98 L1165.56,991.13 L1167.00,990.27 L1168.45,989.40 L1169.90,988.53 L1171.35,987.65 L1172.80,986.75 L1174.25,985.85 L1175.71,984.95 L1177.16,984.03 L1178.61,983.11 L1180.06,982.18 L1181.51,981.25 L1182.96,980.31 L1184.41,979.36 L1185.85,978.41 L1187.30,977.45 L1188.74,976.49 L1190.18,975.52 L1191.62,974.55 L1193.05,973.57 L1194.49,972.59 L1195.92,971.61 L1197.34,970.62 L1198.76,969.63 L1200.18,968.64 L1201.60,967.64 L1203.01,966.64 L1204.41,965.64 L1205.81,964.63 L1207.21,963.63 L1208.60,962.62 L1209.98,961.61 L1211.36,960.60 L1212.73,959.59 L1214.10,958.58 L1215.46,957.57 L1216.81,956.56 L1218.16,955.55 L1219.50,954.55 L1220.83,953.54 L1222.16,952.53 L1223.47,951.53 L1224.78,950.52 L1226.08,949.52 L1227.37,948.52 L1228.66,947.53 L1229.93,946.53 L1231.20,945.54 L1232.45,944.55 L1233.70,943.57 L1234.93,942.59 L1236.16,941.61 L1237.37,940.64 L1238.57,939.68 L1239.77,938.71 L1240.95,937.76 L1242.12,936.81 L1243.28,935.86 L1244.42,934.92 L1245.56,933.99 L1246.68,933.06 L1247.79,932.14 L1248.89,931.23 L1249.97,930.32 L1251.05,929.43 L1252.11,928.53 L1253.16,927.65 L1254.19,926.77 L1255.22,925.89 L1256.23,925.03 L1257.24,924.17 L1258.23,923.31 L1259.22,922.47 L1260.19,921.62 L1261.15,920.79 L1262.10,919.96 L1263.05,919.14 L1263.98,918.32 L1264.90,917.51 L1265.82,916.70 L1266.72,915.91 L1267.62,915.11 L1268.51,914.32 L1269.39,913.54 L1270.26,912.77 L1271.13,912.00 L1271.98,911.23 L1272.83,910.47 L1273.67,909.72 L1274.51,908.97 L1275.33,908.22 L1276.15,907.48 L1276.97,906.75 L1277.78,906.02 L1278.58,905.30 L1279.37,904.58 L1280.16,903.87 L1280.95,903.16 L1281.73,902.46 L1282.50,901.76 L1283.27,901.06 L1284.03,900.38 L1284.79,899.69 L1285.55,899.01 L1286.30,898.34 L1287.05,897.67 L1287.79,897.00 L1288.53,896.34 L1289.27,895.68 L1290.00,895.03 L1290.73,894.38 L1291.46,893.73 L1292.18,893.09 L1292.91,892.45 L1293.63,891.82 L1294.35,891.19 L1295.06,890.57 L1295.78,889.95 L1296.49,889.33 L1297.20,888.71 L1297.92,888.10 L1298.63,887.50 L1299.34,886.89 L1300.05,886.29 L1300.76,885.70 L1301.47,885.11 L1302.18,884.52 L1302.89,883.93 L1303.60,883.35 L1304.31,882.77 L1305.02,882.19 L1305.74,881.62 L1306.45,881.05 L1307.17,880.48 L1307.89,879.92 L1308.61,879.35 L1309.34,878.79 L1310.06,878.24 L1310.79,877.69 L1311.52,877.13 L1312.26,876.59 L1312.99,876.04 L1313.73,875.50 L1314.48,874.96 L1315.23,874.42 L1315.98,873.88 L1316.74,873.35 L1317.50,872.81 L1318.26,872.28 L1319.03,871.76 L1319.81,871.23 L1320.59,870.71 L1321.37,870.19 L1322.17,869.67 L1322.96,869.15 L1323.77,868.63 L1324.58,868.12 L1325.39,867.60 L1326.21,867.09 L1327.04,866.58 L1327.88,866.07 L1328.72,865.57 L1329.57,865.06 L1330.43,864.56 L1331.30,864.05 L1332.17,863.55 L1333.05,863.05 L1333.93,862.55 L1334.82,862.05 L1335.72,861.56 L1336.63,861.06 L1337.54,860.57 L1338.46,860.08 L1339.38,859.59 L1340.32,859.09 L1341.25,858.61 L1342.20,858.12 L1343.15,857.63 L1344.10,857.15 L1345.06,856.66 L1346.03,856.18 L1347.00,855.70 L1347.98,855.22 L1348.97,854.74 L1349.96,854.26 L1350.95,853.78 L1351.95,853.31 L1352.96,852.83 L1353.97,852.36 L1354.99,851.88 L1356.01,851.41 L1357.04,850.94 L1358.07,850.47 L1359.11,850.00 L1360.15,849.53 L1361.19,849.06 L1362.25,848.60 L1363.30,848.13 L1364.36,847.67 L1365.43,847.20 L1366.50,846.74 L1367.57,846.28 L1368.65,845.82 L1369.73,845.36 L1370.82,844.90 L1371.91,844.44 L1373.00,843.98 L1374.10,843.52 L1375.20,843.06 L1376.31,842.61 L1377.42,842.15 L1378.53,841.70 L1379.65,841.24 L1380.77,840.79 L1381.89,840.34 L1383.02,839.89 L1384.15,839.44 L1385.28,838.99 L1386.42,838.54 L1387.56,838.09 L1388.70,837.64 L1389.84,837.19 L1390.99,836.74 L1392.14,836.29 L1393.30,835.85 L1394.45,835.40 L1395.61,834.96 L1396.77,834.51 L1397.94,834.07 L1399.10,833.62 L1400.27,833.18 L1401.44,832.74 L1402.61,832.29 L1403.79,831.85 L1404.96,831.41 L1406.14,830.97 L1407.32,830.52 L1408.50,830.08 L1409.69,829.64 L1410.87,829.20 L1412.06,828.76 L1413.25,828.32 L1414.44,827.88 L1415.63,827.44 L1416.82,827.00 L1418.01,826.57 L1419.21,826.13 L1420.40,825.69 L1421.60,825.25 L1422.80,824.81 L1423.99,824.37 L1425.19,823.94 L1426.39,823.50 L1427.59,823.06 L1428.79,822.62 L1429.99,822.19 L1431.19,821.75 L1432.39,821.31 L1433.60,820.87 L1434.80,820.44 L1436.00,820.00" fill="none" stroke="#c5003e" stroke-width="4.4" stroke-dasharray="4.4 4.6"/>
<path d="M869.0,1019.1L877.3,1028.0L869.0,1036.9L860.7,1028.0Z" fill="#c5003e" stroke="#c5003e" stroke-width="1"/>
<path d="M923.0,1045.1L931.3,1054.0L923.0,1062.9L914.7,1054.0Z" fill="#c5003e" stroke="#c5003e" stroke-width="1"/>
<path d="M977.0,974.1L985.3,983.0L977.0,991.9L968.7,983.0Z" fill="#c5003e" stroke="#c5003e" stroke-width="1"/>
<path d="M1031.0,977.6L1039.3,986.5L1031.0,995.4L1022.7,986.5Z" fill="#c5003e" stroke="#c5003e" stroke-width="1"/>
<path d="M1112.0,1006.1L1120.3,1015.0L1112.0,1023.9L1103.7,1015.0Z" fill="#c5003e" stroke="#c5003e" stroke-width="1"/>
<path d="M1247.0,923.9L1255.3,932.8L1247.0,941.7L1238.7,932.8Z" fill="#c5003e" stroke="#c5003e" stroke-width="1"/>
<path d="M1328.0,857.1L1336.3,866.0L1328.0,874.9L1319.7,866.0Z" fill="#c5003e" stroke="#c5003e" stroke-width="1"/>
<path d="M1436.0,811.1L1444.3,820.0L1436.0,828.9L1427.7,820.0Z" fill="#c5003e" stroke="#c5003e" stroke-width="1"/>
<path d="M869.0,1009.5V1046.5M863.5,1009.5H874.5M863.5,1046.5H874.5" stroke="#c5003e" stroke-opacity="0.5" stroke-width="1.2" fill="none"/>
<path d="M923.0,1043.5V1064.5M917.5,1043.5H928.5M917.5,1064.5H928.5" stroke="#c5003e" stroke-opacity="0.5" stroke-width="1.2" fill="none"/>
<path d="M977.0,943.0V1021.0M971.5,943.0H982.5M971.5,1021.0H982.5" stroke="#c5003e" stroke-opacity="0.5" stroke-width="1.2" fill="none"/>
<path d="M1031.0,968.5V1004.0M1025.5,968.5H1036.5M1025.5,1004.0H1036.5" stroke="#c5003e" stroke-opacity="0.5" stroke-width="1.2" fill="none"/>
<path d="M1112.0,941.3V1088.5M1106.5,941.3H1117.5M1106.5,1088.5H1117.5" stroke="#c5003e" stroke-opacity="0.5" stroke-width="1.2" fill="none"/>
<path d="M1247.0,866.0V1001.0M1241.5,866.0H1252.5M1241.5,1001.0H1252.5" stroke="#c5003e" stroke-opacity="0.5" stroke-width="1.2" fill="none"/>
<path d="M1328.0,783.5V947.5M1322.5,783.5H1333.5M1322.5,947.5H1333.5" stroke="#c5003e" stroke-opacity="0.5" stroke-width="1.2" fill="none"/>
<path d="M1436.0,732.0V907.5M1430.5,732.0H1441.5M1430.5,907.5H1441.5" stroke="#c5003e" stroke-opacity="0.5" stroke-width="1.2" fill="none"/>
<path d="M843.7,1027.1 L901.4,1027.1 L987.4,868.5 L1247.5,928.5 L1247.7,865.0 L1291.1,740.5 L1342.3,628.8" fill="none" stroke="#6b97ca" stroke-width="2" stroke-linejoin="miter"/>
<path d="M901.4,1027.1 L963.0,996.7 L993.1,957.0 L1065.5,1006.9 L1137.5,1017.2 L1147.6,1028.0 L1246.5,1028.0 L1343.4,1009.7 L1425.0,997.0 L1435.2,924.5 L1515.6,852.5" fill="none" stroke="#6b97ca" stroke-width="2" stroke-linejoin="miter"/>
<path d="M1065.5,1006.9 L1075.9,966.0 L1106.7,915.1 L1312.0,945.4 L1343.4,1009.7" fill="none" stroke="#6b97ca" stroke-width="2" stroke-linejoin="miter"/>
<path d="M1247.5,928.5 L1342.3,853.8 L1435.2,924.5" fill="none" stroke="#6b97ca" stroke-width="2" stroke-linejoin="miter"/>
<text x="868.9" y="668" class="ti" fill="#c5003e" textLength="391.0" lengthAdjust="spacingAndGlyphs">Proportion (µm³/µm) of</text>
<text x="869.2" y="711" class="ti" fill="#c5003e" textLength="341.7" lengthAdjust="spacingAndGlyphs">Simiate in dendrites</text>
<text x="1481.7" y="655.8" class="le" textLength="37.3" lengthAdjust="spacingAndGlyphs">E</text>
<rect x="837" y="1153.5" width="47.0" height="20.0" fill="#000000"/>
<rect x="884" y="1153.5" width="124.5" height="20.0" fill="#729fcf"/>
<rect x="1008.5" y="1153.5" width="67.0" height="20.0" fill="#81d41a"/>
<rect x="1075.5" y="1153.5" width="268.0" height="20.0" fill="#177a22"/>
<rect x="1343.5" y="1153.5" width="172.5" height="20.0" fill="#ffbf00"/>
<line x1="836.0" y1="1704.50" x2="1517.3" y2="1704.50" stroke="#dcdcdc" stroke-width="1.3"/>
<text transform="translate(830.0,1716.30) scale(0.83,1)" text-anchor="end" class="ax">0.00</text>
<line x1="836.0" y1="1589.50" x2="1517.3" y2="1589.50" stroke="#dcdcdc" stroke-width="1.3"/>
<text transform="translate(830.0,1601.30) scale(0.83,1)" text-anchor="end" class="ax">0.25</text>
<line x1="836.0" y1="1474.50" x2="1517.3" y2="1474.50" stroke="#dcdcdc" stroke-width="1.3"/>
<text transform="translate(830.0,1486.30) scale(0.83,1)" text-anchor="end" class="ax">0.50</text>
<line x1="836.0" y1="1359.50" x2="1517.3" y2="1359.50" stroke="#dcdcdc" stroke-width="1.3"/>
<text transform="translate(830.0,1371.30) scale(0.83,1)" text-anchor="end" class="ax">0.75</text>
<line x1="836.0" y1="1244.50" x2="1458.5" y2="1244.50" stroke="#dcdcdc" stroke-width="1.3"/>
<text transform="translate(830.0,1256.30) scale(0.83,1)" text-anchor="end" class="ax">1.00</text>
<line x1="844.0" y1="1244.50" x2="844.0" y2="1714.50" stroke="#dcdcdc" stroke-width="1.3"/>
<line x1="1517.3" y1="1299.00" x2="1517.3" y2="1714.50" stroke="#dcdcdc" stroke-width="1.3"/>
<text transform="translate(844.0,1751.20) scale(0.83,1)" text-anchor="middle" class="ax">0</text>
<line x1="978.7" y1="1704.50" x2="978.7" y2="1714.50" stroke="#dcdcdc" stroke-width="1.3"/>
<text transform="translate(978.7,1751.20) scale(0.83,1)" text-anchor="middle" class="ax">5</text>
<line x1="1113.3" y1="1704.50" x2="1113.3" y2="1714.50" stroke="#dcdcdc" stroke-width="1.3"/>
<text transform="translate(1113.3,1751.20) scale(0.83,1)" text-anchor="middle" class="ax">10</text>
<line x1="1248.0" y1="1704.50" x2="1248.0" y2="1714.50" stroke="#dcdcdc" stroke-width="1.3"/>
<text transform="translate(1248.0,1751.20) scale(0.83,1)" text-anchor="middle" class="ax">15</text>
<line x1="1382.6" y1="1704.50" x2="1382.6" y2="1714.50" stroke="#dcdcdc" stroke-width="1.3"/>
<text transform="translate(1382.6,1751.20) scale(0.83,1)" text-anchor="middle" class="ax">20</text>
<text transform="translate(1517.3,1751.20) scale(0.83,1)" text-anchor="middle" class="ax">25</text>
<path d="M870.93,1689.20 L871.47,1689.39 L872.01,1689.58 L872.55,1689.77 L873.08,1689.96 L873.62,1690.15 L874.16,1690.34 L874.70,1690.53 L875.23,1690.72 L875.77,1690.91 L876.31,1691.09 L876.85,1691.28 L877.39,1691.47 L877.92,1691.66 L878.46,1691.84 L879.00,1692.03 L879.54,1692.21 L880.08,1692.40 L880.61,1692.58 L881.15,1692.76 L881.69,1692.94 L882.23,1693.12 L882.77,1693.30 L883.30,1693.48 L883.84,1693.66 L884.38,1693.84 L884.92,1694.01 L885.46,1694.19 L885.99,1694.36 L886.53,1694.53 L887.07,1694.70 L887.61,1694.87 L888.15,1695.04 L888.69,1695.21 L889.22,1695.37 L889.76,1695.54 L890.30,1695.70 L890.84,1695.86 L891.38,1696.02 L891.92,1696.18 L892.46,1696.33 L892.99,1696.48 L893.53,1696.64 L894.07,1696.79 L894.61,1696.93 L895.15,1697.08 L895.69,1697.22 L896.23,1697.37 L896.77,1697.51 L897.30,1697.64 L897.84,1697.78 L898.38,1697.91 L898.92,1698.04 L899.46,1698.17 L900.00,1698.30 L900.54,1698.42 L901.08,1698.54 L901.62,1698.66 L902.16,1698.78 L902.70,1698.89 L903.24,1699.01 L903.78,1699.11 L904.32,1699.22 L904.86,1699.32 L905.39,1699.42 L905.93,1699.52 L906.47,1699.62 L907.01,1699.71 L907.55,1699.80 L908.09,1699.88 L908.63,1699.96 L909.17,1700.04 L909.72,1700.12 L910.26,1700.19 L910.80,1700.26 L911.34,1700.33 L911.88,1700.39 L912.42,1700.45 L912.96,1700.51 L913.50,1700.56 L914.04,1700.61 L914.58,1700.66 L915.12,1700.70 L915.66,1700.74 L916.20,1700.77 L916.75,1700.81 L917.29,1700.83 L917.83,1700.86 L918.37,1700.88 L918.91,1700.89 L919.45,1700.90 L919.99,1700.91 L920.54,1700.92 L921.08,1700.92 L921.62,1700.91 L922.16,1700.90 L922.70,1700.89 L923.25,1700.87 L923.79,1700.85 L924.33,1700.83 L924.87,1700.80 L925.42,1700.76 L925.96,1700.72 L926.50,1700.68 L927.04,1700.63 L927.59,1700.58 L928.13,1700.52 L928.67,1700.46 L929.22,1700.40 L929.76,1700.33 L930.30,1700.26 L930.85,1700.19 L931.39,1700.11 L931.93,1700.03 L932.48,1699.94 L933.02,1699.85 L933.56,1699.76 L934.11,1699.67 L934.65,1699.57 L935.19,1699.47 L935.74,1699.36 L936.28,1699.26 L936.82,1699.15 L937.37,1699.03 L937.91,1698.92 L938.45,1698.80 L939.00,1698.68 L939.54,1698.56 L940.09,1698.43 L940.63,1698.31 L941.17,1698.18 L941.71,1698.04 L942.26,1697.91 L942.80,1697.78 L943.34,1697.64 L943.89,1697.50 L944.43,1697.36 L944.97,1697.21 L945.52,1697.07 L946.06,1696.92 L946.60,1696.78 L947.14,1696.63 L947.69,1696.48 L948.23,1696.33 L948.77,1696.18 L949.31,1696.02 L949.85,1695.87 L950.40,1695.71 L950.94,1695.56 L951.48,1695.40 L952.02,1695.24 L952.56,1695.09 L953.10,1694.93 L953.64,1694.77 L954.19,1694.61 L954.73,1694.45 L955.27,1694.29 L955.81,1694.13 L956.35,1693.97 L956.89,1693.81 L957.43,1693.65 L957.97,1693.50 L958.51,1693.34 L959.04,1693.18 L959.58,1693.02 L960.12,1692.86 L960.66,1692.71 L961.20,1692.55 L961.74,1692.39 L962.28,1692.24 L962.81,1692.09 L963.35,1691.93 L963.89,1691.78 L964.42,1691.63 L964.96,1691.48 L965.50,1691.33 L966.03,1691.19 L966.57,1691.04 L967.11,1690.90 L967.64,1690.75 L968.18,1690.61 L968.71,1690.48 L969.25,1690.34 L969.78,1690.20 L970.31,1690.07 L970.85,1689.94 L971.38,1689.81 L971.91,1689.68 L972.45,1689.56 L972.98,1689.44 L973.51,1689.32 L974.04,1689.20 L974.57,1689.09 L975.10,1688.97 L975.63,1688.87 L976.16,1688.76 L976.69,1688.66 L977.22,1688.56 L977.75,1688.46 L978.28,1688.37 L978.81,1688.27 L979.34,1688.19 L979.87,1688.10 L980.39,1688.02 L980.92,1687.94 L981.45,1687.87 L981.97,1687.80 L982.50,1687.73 L983.03,1687.66 L983.55,1687.60 L984.08,1687.54 L984.60,1687.48 L985.13,1687.43 L985.65,1687.38 L986.18,1687.33 L986.70,1687.28 L987.23,1687.24 L987.75,1687.20 L988.28,1687.16 L988.80,1687.13 L989.33,1687.09 L989.85,1687.06 L990.37,1687.03 L990.90,1687.01 L991.42,1686.99 L991.95,1686.97 L992.47,1686.95 L993.00,1686.93 L993.52,1686.92 L994.05,1686.91 L994.57,1686.90 L995.10,1686.89 L995.62,1686.88 L996.15,1686.88 L996.67,1686.88 L997.20,1686.88 L997.73,1686.88 L998.25,1686.89 L998.78,1686.89 L999.31,1686.90 L999.84,1686.91 L1000.36,1686.92 L1000.89,1686.94 L1001.42,1686.95 L1001.95,1686.97 L1002.48,1686.99 L1003.01,1687.01 L1003.54,1687.03 L1004.07,1687.05 L1004.60,1687.08 L1005.13,1687.10 L1005.67,1687.13 L1006.20,1687.16 L1006.73,1687.19 L1007.27,1687.22 L1007.80,1687.25 L1008.34,1687.28 L1008.87,1687.32 L1009.41,1687.35 L1009.95,1687.39 L1010.48,1687.43 L1011.02,1687.46 L1011.56,1687.50 L1012.10,1687.54 L1012.64,1687.59 L1013.18,1687.63 L1013.73,1687.67 L1014.27,1687.71 L1014.81,1687.76 L1015.36,1687.80 L1015.90,1687.85 L1016.45,1687.90 L1017.00,1687.94 L1017.55,1687.99 L1018.10,1688.04 L1018.65,1688.08 L1019.20,1688.13 L1019.75,1688.18 L1020.30,1688.23 L1020.86,1688.28 L1021.41,1688.33 L1021.97,1688.38 L1022.53,1688.43 L1023.09,1688.48 L1023.65,1688.53 L1024.21,1688.58 L1024.77,1688.63 L1025.33,1688.68 L1025.90,1688.73 L1026.46,1688.78 L1027.03,1688.83 L1027.60,1688.88 L1028.17,1688.93 L1028.74,1688.98 L1029.31,1689.03 L1029.89,1689.08 L1030.46,1689.13 L1031.04,1689.18 L1031.61,1689.23 L1032.19,1689.27 L1032.77,1689.32 L1033.35,1689.37 L1033.94,1689.41 L1034.52,1689.46 L1035.11,1689.50 L1035.70,1689.55 L1036.29,1689.59 L1036.88,1689.63 L1037.48,1689.68 L1038.07,1689.72 L1038.67,1689.76 L1039.27,1689.80 L1039.88,1689.84 L1040.48,1689.88 L1041.09,1689.92 L1041.71,1689.96 L1042.32,1690.00 L1042.94,1690.04 L1043.56,1690.08 L1044.18,1690.12 L1044.81,1690.15 L1045.44,1690.19 L1046.08,1690.23 L1046.71,1690.26 L1047.36,1690.30 L1048.00,1690.33 L1048.65,1690.37 L1049.30,1690.41 L1049.96,1690.44 L1050.62,1690.47 L1051.29,1690.51 L1051.96,1690.54 L1052.63,1690.57 L1053.31,1690.61 L1053.99,1690.64 L1054.68,1690.67 L1055.37,1690.71 L1056.07,1690.74 L1056.77,1690.77 L1057.48,1690.80 L1058.19,1690.83 L1058.91,1690.86 L1059.63,1690.89 L1060.36,1690.92 L1061.10,1690.95 L1061.84,1690.98 L1062.58,1691.01 L1063.34,1691.04 L1064.09,1691.07 L1064.86,1691.10 L1065.63,1691.13 L1066.40,1691.16 L1067.18,1691.19 L1067.97,1691.22 L1068.77,1691.25 L1069.57,1691.27 L1070.38,1691.30 L1071.19,1691.33 L1072.02,1691.36 L1072.84,1691.39 L1073.68,1691.41 L1074.52,1691.44 L1075.37,1691.47 L1076.23,1691.50 L1077.10,1691.52 L1077.97,1691.55 L1078.85,1691.58 L1079.74,1691.60 L1080.63,1691.63 L1081.54,1691.66 L1082.45,1691.69 L1083.37,1691.71 L1084.30,1691.74 L1085.23,1691.77 L1086.18,1691.79 L1087.13,1691.82 L1088.09,1691.85 L1089.07,1691.87 L1090.04,1691.90 L1091.03,1691.93 L1092.03,1691.96 L1093.04,1691.98 L1094.05,1692.01 L1095.08,1692.04 L1096.11,1692.06 L1097.15,1692.09 L1098.21,1692.12 L1099.27,1692.15 L1100.34,1692.17 L1101.43,1692.20 L1102.52,1692.23 L1103.62,1692.26 L1104.73,1692.29 L1105.85,1692.31 L1106.99,1692.34 L1108.13,1692.37 L1109.28,1692.40 L1110.45,1692.43 L1111.62,1692.46 L1112.81,1692.49 L1114.01,1692.52 L1115.21,1692.55 L1116.43,1692.58 L1117.66,1692.61 L1118.90,1692.63 L1120.14,1692.66 L1121.40,1692.69 L1122.67,1692.72 L1123.95,1692.75 L1125.23,1692.77 L1126.52,1692.80 L1127.83,1692.82 L1129.14,1692.84 L1130.45,1692.87 L1131.78,1692.89 L1133.11,1692.90 L1134.45,1692.92 L1135.80,1692.94 L1137.16,1692.95 L1138.52,1692.96 L1139.88,1692.97 L1141.26,1692.98 L1142.64,1692.98 L1144.02,1692.98 L1145.41,1692.98 L1146.81,1692.98 L1148.21,1692.97 L1149.61,1692.96 L1151.02,1692.95 L1152.43,1692.93 L1153.85,1692.91 L1155.27,1692.89 L1156.69,1692.86 L1158.12,1692.83 L1159.55,1692.80 L1160.99,1692.76 L1162.42,1692.72 L1163.86,1692.67 L1165.30,1692.62 L1166.74,1692.56 L1168.19,1692.50 L1169.63,1692.44 L1171.08,1692.37 L1172.52,1692.29 L1173.97,1692.21 L1175.42,1692.13 L1176.87,1692.04 L1178.31,1691.94 L1179.76,1691.84 L1181.21,1691.73 L1182.66,1691.62 L1184.10,1691.50 L1185.54,1691.38 L1186.99,1691.25 L1188.43,1691.11 L1189.87,1690.97 L1191.30,1690.82 L1192.74,1690.66 L1194.17,1690.49 L1195.60,1690.32 L1197.02,1690.15 L1198.45,1689.96 L1199.86,1689.77 L1201.28,1689.57 L1202.69,1689.36 L1204.10,1689.15 L1205.50,1688.93 L1206.90,1688.70 L1208.29,1688.46 L1209.67,1688.21 L1211.06,1687.96 L1212.43,1687.70 L1213.80,1687.42 L1215.16,1687.14 L1216.52,1686.86 L1217.87,1686.56 L1219.21,1686.25 L1220.55,1685.94 L1221.88,1685.61 L1223.20,1685.28 L1224.51,1684.94 L1225.82,1684.58 L1227.12,1684.22 L1228.40,1683.85 L1229.68,1683.47 L1230.95,1683.07 L1232.22,1682.67 L1233.47,1682.26 L1234.71,1681.83 L1235.94,1681.40 L1237.16,1680.96 L1238.38,1680.50 L1239.58,1680.04 L1240.77,1679.56 L1241.94,1679.07 L1243.11,1678.57 L1244.27,1678.06 L1245.41,1677.54 L1246.54,1677.00 L1247.66,1676.46 L1248.77,1675.90 L1249.86,1675.33 L1250.95,1674.75 L1252.02,1674.16 L1253.07,1673.56 L1254.12,1672.94 L1255.16,1672.32 L1256.18,1671.69 L1257.19,1671.04 L1258.19,1670.39 L1259.18,1669.73 L1260.16,1669.05 L1261.13,1668.37 L1262.09,1667.68 L1263.04,1666.99 L1263.99,1666.28 L1264.92,1665.57 L1265.84,1664.85 L1266.75,1664.12 L1267.65,1663.39 L1268.55,1662.65 L1269.43,1661.90 L1270.31,1661.14 L1271.18,1660.38 L1272.04,1659.62 L1272.90,1658.85 L1273.75,1658.07 L1274.59,1657.29 L1275.42,1656.51 L1276.24,1655.72 L1277.06,1654.92 L1277.87,1654.13 L1278.68,1653.33 L1279.48,1652.52 L1280.27,1651.72 L1281.06,1650.91 L1281.84,1650.09 L1282.62,1649.28 L1283.39,1648.46 L1284.16,1647.64 L1284.92,1646.83 L1285.68,1646.01 L1286.43,1645.18 L1287.18,1644.36 L1287.93,1643.54 L1288.67,1642.72 L1289.41,1641.90 L1290.14,1641.07 L1290.87,1640.25 L1291.60,1639.43 L1292.33,1638.62 L1293.05,1637.80 L1293.77,1636.98 L1294.49,1636.17 L1295.21,1635.36 L1295.92,1634.55 L1296.64,1633.75 L1297.35,1632.94 L1298.06,1632.14 L1298.77,1631.35 L1299.48,1630.56 L1300.19,1629.77 L1300.89,1628.99 L1301.60,1628.21 L1302.31,1627.44 L1303.02,1626.67 L1303.73,1625.91 L1304.44,1625.15 L1305.15,1624.40 L1305.86,1623.65 L1306.57,1622.92 L1307.28,1622.19 L1308.00,1621.46 L1308.72,1620.75 L1309.44,1620.04 L1310.16,1619.34 L1310.88,1618.64 L1311.61,1617.96 L1312.34,1617.28 L1313.07,1616.62 L1313.81,1615.96 L1314.55,1615.31 L1315.29,1614.67 L1316.03,1614.04 L1316.78,1613.42 L1317.54,1612.82 L1318.30,1612.22 L1319.06,1611.63 L1319.83,1611.06 L1320.60,1610.50 L1321.38,1609.94 L1322.17,1609.41 L1322.96,1608.88 L1323.75,1608.36 L1324.55,1607.86 L1325.36,1607.38 L1326.17,1606.90 L1326.99,1606.44 L1327.82,1605.99 L1328.66,1605.56 L1329.50,1605.14 L1330.35,1604.74 L1331.20,1604.35 L1332.06,1603.97 L1332.93,1603.61 L1333.81,1603.26 L1334.69,1602.93 L1335.58,1602.61 L1336.48,1602.30 L1337.38,1602.01 L1338.29,1601.73 L1339.21,1601.46 L1340.13,1601.21 L1341.06,1600.96 L1342.00,1600.73 L1342.94,1600.52 L1343.88,1600.31 L1344.84,1600.12 L1345.80,1599.94 L1346.76,1599.77 L1347.73,1599.61 L1348.71,1599.46 L1349.69,1599.33 L1350.68,1599.20 L1351.67,1599.09 L1352.67,1598.99 L1353.67,1598.90 L1354.68,1598.82 L1355.70,1598.75 L1356.71,1598.69 L1357.74,1598.64 L1358.77,1598.60 L1359.80,1598.57 L1360.84,1598.55 L1361.89,1598.54 L1362.93,1598.54 L1363.99,1598.55 L1365.05,1598.56 L1366.11,1598.59 L1367.17,1598.63 L1368.25,1598.67 L1369.32,1598.72 L1370.40,1598.79 L1371.48,1598.85 L1372.57,1598.93 L1373.66,1599.02 L1374.76,1599.11 L1375.86,1599.21 L1376.96,1599.32 L1378.07,1599.44 L1379.18,1599.56 L1380.29,1599.69 L1381.41,1599.83 L1382.53,1599.98 L1383.65,1600.13 L1384.78,1600.28 L1385.91,1600.45 L1387.05,1600.62 L1388.18,1600.80 L1389.32,1600.98 L1390.46,1601.17 L1391.61,1601.36 L1392.76,1601.56 L1393.91,1601.76 L1395.06,1601.98 L1396.22,1602.19 L1397.38,1602.41 L1398.54,1602.64 L1399.70,1602.87 L1400.86,1603.10 L1402.03,1603.34 L1403.20,1603.58 L1404.37,1603.83 L1405.55,1604.08 L1406.72,1604.33 L1407.90,1604.59 L1409.08,1604.85 L1410.26,1605.12 L1411.44,1605.39 L1412.62,1605.66 L1413.81,1605.93 L1415.00,1606.21 L1416.18,1606.49 L1417.37,1606.77 L1418.56,1607.05 L1419.75,1607.34 L1420.95,1607.63 L1422.14,1607.92 L1423.33,1608.21 L1424.53,1608.51 L1425.72,1608.80 L1426.92,1609.10 L1428.12,1609.40 L1429.31,1609.69 L1430.51,1609.99 L1431.71,1610.29 L1432.91,1610.60 L1434.11,1610.90 L1435.31,1611.20 L1436.50,1611.50" fill="none" stroke="#c27c9f" stroke-width="4.2" stroke-dasharray="4.4 4.6"/>
<path d="M870.9,1680.3L879.2,1689.2L870.9,1698.1L862.6,1689.2Z" fill="#c27c9f" stroke="#b8769a" stroke-width="1"/>
<path d="M924.8,1691.9L933.1,1700.8L924.8,1709.7L916.5,1700.8Z" fill="#c27c9f" stroke="#b8769a" stroke-width="1"/>
<path d="M978.7,1679.4L987.0,1688.3L978.7,1697.2L970.4,1688.3Z" fill="#c27c9f" stroke="#b8769a" stroke-width="1"/>
<path d="M1032.5,1680.4L1040.8,1689.3L1032.5,1698.2L1024.2,1689.3Z" fill="#c27c9f" stroke="#b8769a" stroke-width="1"/>
<path d="M1113.3,1683.6L1121.6,1692.5L1113.3,1701.4L1105.0,1692.5Z" fill="#c27c9f" stroke="#b8769a" stroke-width="1"/>
<path d="M1248.0,1667.4L1256.3,1676.3L1248.0,1685.2L1239.7,1676.3Z" fill="#c27c9f" stroke="#b8769a" stroke-width="1"/>
<path d="M1328.8,1596.6L1337.1,1605.5L1328.8,1614.4L1320.5,1605.5Z" fill="#c27c9f" stroke="#b8769a" stroke-width="1"/>
<path d="M1436.5,1602.6L1444.8,1611.5L1436.5,1620.4L1428.2,1611.5Z" fill="#c27c9f" stroke="#b8769a" stroke-width="1"/>
<path d="M870.9,1681.4V1697.3M865.4,1681.4H876.4M865.4,1697.3H876.4" stroke="#c27c9f" stroke-opacity="0.45" stroke-width="1.2" fill="none"/>
<path d="M924.8,1698.0V1703.5M919.3,1698.0H930.3M919.3,1703.5H930.3" stroke="#c27c9f" stroke-opacity="0.45" stroke-width="1.2" fill="none"/>
<path d="M978.7,1679.7V1696.2M973.2,1679.7H984.2M973.2,1696.2H984.2" stroke="#c27c9f" stroke-opacity="0.45" stroke-width="1.2" fill="none"/>
<path d="M1032.5,1682.0V1695.0M1027.0,1682.0H1038.0M1027.0,1695.0H1038.0" stroke="#c27c9f" stroke-opacity="0.45" stroke-width="1.2" fill="none"/>
<path d="M1113.3,1677.8V1692.0M1107.8,1677.8H1118.8M1107.8,1692.0H1118.8" stroke="#c27c9f" stroke-opacity="0.45" stroke-width="1.2" fill="none"/>
<path d="M1248.0,1662.8V1689.0M1242.5,1662.8H1253.5M1242.5,1689.0H1253.5" stroke="#c27c9f" stroke-opacity="0.45" stroke-width="1.2" fill="none"/>
<path d="M1328.8,1570.8V1640.5M1323.3,1570.8H1334.3M1323.3,1640.5H1334.3" stroke="#c27c9f" stroke-opacity="0.45" stroke-width="1.2" fill="none"/>
<path d="M1436.5,1574.0V1649.0M1431.0,1574.0H1442.0M1431.0,1649.0H1442.0" stroke="#c27c9f" stroke-opacity="0.45" stroke-width="1.2" fill="none"/>
<path d="M840.5,1658.7 L1517.0,1658.7" fill="none" stroke="#6b97ca" stroke-width="2" stroke-linejoin="miter"/>
<text x="868.8" y="1283" class="ti" fill="#a3457b" textLength="599.1" lengthAdjust="spacingAndGlyphs">Proportion (µm³/µm) of colocalised</text>
<text x="868.8" y="1327" class="ti" fill="#a3457b" textLength="522.5" lengthAdjust="spacingAndGlyphs">FAK1 and Simiate in dendrites</text>
<text x="1485.4" y="1273" class="le" textLength="33.8" lengthAdjust="spacingAndGlyphs">F</text>
<rect x="835.5" y="1769" width="47.5" height="20.0" fill="#000000"/>
<rect x="883" y="1769" width="124.5" height="20.0" fill="#729fcf"/>
<rect x="1007.5" y="1769" width="67.0" height="20.0" fill="#81d41a"/>
<rect x="1074.5" y="1769" width="267.5" height="20.0" fill="#177a22"/>
<rect x="1342" y="1769" width="172.5" height="20.0" fill="#ffbf00"/>
</svg>
</body></html>
